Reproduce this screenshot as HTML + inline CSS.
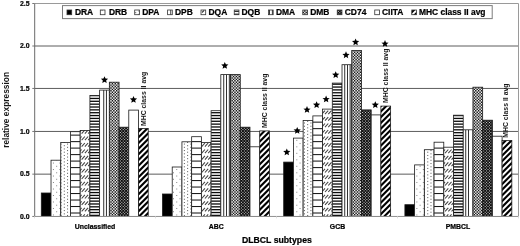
<!DOCTYPE html>
<html><head><meta charset="utf-8"><title>DLBCL subtypes</title>
<style>
html,body{margin:0;padding:0;background:#fff;}
svg{display:block;font-family:"Liberation Sans",Arial,sans-serif;font-weight:bold;fill:#000;}
text{stroke:#000;stroke-width:0.22px;}
text.r{stroke:none;fill:#161616;}
</style></head><body>
<svg width="520" height="246" viewBox="0 0 520 246">
<defs>
<pattern id="p7" patternUnits="userSpaceOnUse" width="2" height="2"><rect width="2" height="2" fill="#b4b4b4"/><rect width="1" height="1" fill="#5c5c5c"/><rect x="1" y="1" width="1" height="1" fill="#5c5c5c"/></pattern>
<pattern id="p8" patternUnits="userSpaceOnUse" width="3" height="3"><rect width="3" height="3" fill="#161616"/><rect x="0" y="0" width="1" height="1" fill="#999"/><rect x="1.5" y="1.5" width="1" height="1" fill="#777"/></pattern>
</defs>
<rect width="520" height="246" fill="#fff"/>

<line x1="34.5" y1="174.15" x2="518.5" y2="174.15" stroke="#4a4a4a" stroke-width="0.9"/>
<line x1="34.5" y1="131.45" x2="518.5" y2="131.45" stroke="#4a4a4a" stroke-width="0.9"/>
<line x1="34.5" y1="88.45" x2="518.5" y2="88.45" stroke="#4a4a4a" stroke-width="0.9"/>
<line x1="34.5" y1="46.00" x2="518.5" y2="46.00" stroke="#4a4a4a" stroke-width="0.9"/>
<path d="M34.5,3.5 H518.5 V216.4" fill="none" stroke="#9a9a9a" stroke-width="1"/>
<rect x="41.30" y="193.00" width="9.72" height="23.45" fill="#000"/>
<rect x="41.30" y="193.00" width="9.72" height="23.45" fill="none" stroke="#1a1a1a" stroke-width="0.8"/>
<rect x="51.02" y="160.20" width="9.72" height="56.25" fill="#fff"/><clipPath id="c1"><rect x="51.02" y="160.20" width="9.72" height="56.25"/></clipPath><g clip-path="url(#c1)"><rect x="56.16" y="159.31" width="1" height="1" fill="#858585"/><rect x="52.92" y="162.55" width="1" height="1" fill="#858585"/><rect x="59.41" y="162.55" width="1" height="1" fill="#858585"/><rect x="56.16" y="165.80" width="1" height="1" fill="#858585"/><rect x="52.92" y="169.04" width="1" height="1" fill="#858585"/><rect x="59.41" y="169.04" width="1" height="1" fill="#858585"/><rect x="56.16" y="172.29" width="1" height="1" fill="#858585"/><rect x="52.92" y="175.53" width="1" height="1" fill="#858585"/><rect x="59.41" y="175.53" width="1" height="1" fill="#858585"/><rect x="56.16" y="178.78" width="1" height="1" fill="#858585"/><rect x="52.92" y="182.02" width="1" height="1" fill="#858585"/><rect x="59.41" y="182.02" width="1" height="1" fill="#858585"/><rect x="56.16" y="185.27" width="1" height="1" fill="#858585"/><rect x="52.92" y="188.51" width="1" height="1" fill="#858585"/><rect x="59.41" y="188.51" width="1" height="1" fill="#858585"/><rect x="56.16" y="191.76" width="1" height="1" fill="#858585"/><rect x="52.92" y="195.00" width="1" height="1" fill="#858585"/><rect x="59.41" y="195.00" width="1" height="1" fill="#858585"/><rect x="56.16" y="198.25" width="1" height="1" fill="#858585"/><rect x="52.92" y="201.49" width="1" height="1" fill="#858585"/><rect x="59.41" y="201.49" width="1" height="1" fill="#858585"/><rect x="56.16" y="204.74" width="1" height="1" fill="#858585"/><rect x="52.92" y="207.98" width="1" height="1" fill="#858585"/><rect x="59.41" y="207.98" width="1" height="1" fill="#858585"/><rect x="56.16" y="211.23" width="1" height="1" fill="#858585"/><rect x="52.92" y="214.47" width="1" height="1" fill="#858585"/><rect x="59.41" y="214.47" width="1" height="1" fill="#858585"/></g>
<rect x="51.02" y="160.20" width="9.72" height="56.25" fill="none" stroke="#1a1a1a" stroke-width="0.8"/>
<rect x="60.74" y="142.50" width="9.72" height="73.95" fill="#fff"/><clipPath id="c2"><rect x="60.74" y="142.50" width="9.72" height="73.95"/></clipPath><g clip-path="url(#c2)"><rect x="63.81" y="141.96" width="1" height="1" fill="#555"/><rect x="70.30" y="141.96" width="1" height="1" fill="#555"/><rect x="60.56" y="143.58" width="1" height="1" fill="#555"/><rect x="67.05" y="143.58" width="1" height="1" fill="#555"/><rect x="63.81" y="145.20" width="1" height="1" fill="#555"/><rect x="70.30" y="145.20" width="1" height="1" fill="#555"/><rect x="60.56" y="146.83" width="1" height="1" fill="#555"/><rect x="67.05" y="146.83" width="1" height="1" fill="#555"/><rect x="63.81" y="148.45" width="1" height="1" fill="#555"/><rect x="70.30" y="148.45" width="1" height="1" fill="#555"/><rect x="60.56" y="150.07" width="1" height="1" fill="#555"/><rect x="67.05" y="150.07" width="1" height="1" fill="#555"/><rect x="63.81" y="151.69" width="1" height="1" fill="#555"/><rect x="70.30" y="151.69" width="1" height="1" fill="#555"/><rect x="60.56" y="153.32" width="1" height="1" fill="#555"/><rect x="67.05" y="153.32" width="1" height="1" fill="#555"/><rect x="63.81" y="154.94" width="1" height="1" fill="#555"/><rect x="70.30" y="154.94" width="1" height="1" fill="#555"/><rect x="60.56" y="156.56" width="1" height="1" fill="#555"/><rect x="67.05" y="156.56" width="1" height="1" fill="#555"/><rect x="63.81" y="158.18" width="1" height="1" fill="#555"/><rect x="70.30" y="158.18" width="1" height="1" fill="#555"/><rect x="60.56" y="159.81" width="1" height="1" fill="#555"/><rect x="67.05" y="159.81" width="1" height="1" fill="#555"/><rect x="63.81" y="161.43" width="1" height="1" fill="#555"/><rect x="70.30" y="161.43" width="1" height="1" fill="#555"/><rect x="60.56" y="163.05" width="1" height="1" fill="#555"/><rect x="67.05" y="163.05" width="1" height="1" fill="#555"/><rect x="63.81" y="164.67" width="1" height="1" fill="#555"/><rect x="70.30" y="164.67" width="1" height="1" fill="#555"/><rect x="60.56" y="166.30" width="1" height="1" fill="#555"/><rect x="67.05" y="166.30" width="1" height="1" fill="#555"/><rect x="63.81" y="167.92" width="1" height="1" fill="#555"/><rect x="70.30" y="167.92" width="1" height="1" fill="#555"/><rect x="60.56" y="169.54" width="1" height="1" fill="#555"/><rect x="67.05" y="169.54" width="1" height="1" fill="#555"/><rect x="63.81" y="171.16" width="1" height="1" fill="#555"/><rect x="70.30" y="171.16" width="1" height="1" fill="#555"/><rect x="60.56" y="172.79" width="1" height="1" fill="#555"/><rect x="67.05" y="172.79" width="1" height="1" fill="#555"/><rect x="63.81" y="174.41" width="1" height="1" fill="#555"/><rect x="70.30" y="174.41" width="1" height="1" fill="#555"/><rect x="60.56" y="176.03" width="1" height="1" fill="#555"/><rect x="67.05" y="176.03" width="1" height="1" fill="#555"/><rect x="63.81" y="177.65" width="1" height="1" fill="#555"/><rect x="70.30" y="177.65" width="1" height="1" fill="#555"/><rect x="60.56" y="179.28" width="1" height="1" fill="#555"/><rect x="67.05" y="179.28" width="1" height="1" fill="#555"/><rect x="63.81" y="180.90" width="1" height="1" fill="#555"/><rect x="70.30" y="180.90" width="1" height="1" fill="#555"/><rect x="60.56" y="182.52" width="1" height="1" fill="#555"/><rect x="67.05" y="182.52" width="1" height="1" fill="#555"/><rect x="63.81" y="184.14" width="1" height="1" fill="#555"/><rect x="70.30" y="184.14" width="1" height="1" fill="#555"/><rect x="60.56" y="185.77" width="1" height="1" fill="#555"/><rect x="67.05" y="185.77" width="1" height="1" fill="#555"/><rect x="63.81" y="187.39" width="1" height="1" fill="#555"/><rect x="70.30" y="187.39" width="1" height="1" fill="#555"/><rect x="60.56" y="189.01" width="1" height="1" fill="#555"/><rect x="67.05" y="189.01" width="1" height="1" fill="#555"/><rect x="63.81" y="190.63" width="1" height="1" fill="#555"/><rect x="70.30" y="190.63" width="1" height="1" fill="#555"/><rect x="60.56" y="192.26" width="1" height="1" fill="#555"/><rect x="67.05" y="192.26" width="1" height="1" fill="#555"/><rect x="63.81" y="193.88" width="1" height="1" fill="#555"/><rect x="70.30" y="193.88" width="1" height="1" fill="#555"/><rect x="60.56" y="195.50" width="1" height="1" fill="#555"/><rect x="67.05" y="195.50" width="1" height="1" fill="#555"/><rect x="63.81" y="197.12" width="1" height="1" fill="#555"/><rect x="70.30" y="197.12" width="1" height="1" fill="#555"/><rect x="60.56" y="198.75" width="1" height="1" fill="#555"/><rect x="67.05" y="198.75" width="1" height="1" fill="#555"/><rect x="63.81" y="200.37" width="1" height="1" fill="#555"/><rect x="70.30" y="200.37" width="1" height="1" fill="#555"/><rect x="60.56" y="201.99" width="1" height="1" fill="#555"/><rect x="67.05" y="201.99" width="1" height="1" fill="#555"/><rect x="63.81" y="203.61" width="1" height="1" fill="#555"/><rect x="70.30" y="203.61" width="1" height="1" fill="#555"/><rect x="60.56" y="205.24" width="1" height="1" fill="#555"/><rect x="67.05" y="205.24" width="1" height="1" fill="#555"/><rect x="63.81" y="206.86" width="1" height="1" fill="#555"/><rect x="70.30" y="206.86" width="1" height="1" fill="#555"/><rect x="60.56" y="208.48" width="1" height="1" fill="#555"/><rect x="67.05" y="208.48" width="1" height="1" fill="#555"/><rect x="63.81" y="210.10" width="1" height="1" fill="#555"/><rect x="70.30" y="210.10" width="1" height="1" fill="#555"/><rect x="60.56" y="211.73" width="1" height="1" fill="#555"/><rect x="67.05" y="211.73" width="1" height="1" fill="#555"/><rect x="63.81" y="213.35" width="1" height="1" fill="#555"/><rect x="70.30" y="213.35" width="1" height="1" fill="#555"/><rect x="60.56" y="214.97" width="1" height="1" fill="#555"/><rect x="67.05" y="214.97" width="1" height="1" fill="#555"/></g>
<rect x="60.74" y="142.50" width="9.72" height="73.95" fill="none" stroke="#1a1a1a" stroke-width="0.8"/>
<rect x="70.46" y="131.70" width="9.72" height="84.75" fill="#fff"/><clipPath id="c3"><rect x="70.46" y="131.70" width="9.72" height="84.75"/></clipPath><g clip-path="url(#c3)"><rect x="70.46" y="134.60" width="9.72" height="1.05" fill="#1a1a1a"/><rect x="70.46" y="141.09" width="9.72" height="1.05" fill="#1a1a1a"/><rect x="70.46" y="147.58" width="9.72" height="1.05" fill="#1a1a1a"/><rect x="70.46" y="154.07" width="9.72" height="1.05" fill="#1a1a1a"/><rect x="70.46" y="160.56" width="9.72" height="1.05" fill="#1a1a1a"/><rect x="70.46" y="167.05" width="9.72" height="1.05" fill="#1a1a1a"/><rect x="70.46" y="173.54" width="9.72" height="1.05" fill="#1a1a1a"/><rect x="70.46" y="180.03" width="9.72" height="1.05" fill="#1a1a1a"/><rect x="70.46" y="186.52" width="9.72" height="1.05" fill="#1a1a1a"/><rect x="70.46" y="193.01" width="9.72" height="1.05" fill="#1a1a1a"/><rect x="70.46" y="199.50" width="9.72" height="1.05" fill="#1a1a1a"/><rect x="70.46" y="205.99" width="9.72" height="1.05" fill="#1a1a1a"/><rect x="70.46" y="212.48" width="9.72" height="1.05" fill="#1a1a1a"/></g>
<rect x="70.46" y="131.70" width="9.72" height="84.75" fill="none" stroke="#1a1a1a" stroke-width="0.8"/>
<rect x="80.18" y="130.40" width="9.72" height="86.05" fill="#fff"/><clipPath id="c4"><rect x="80.18" y="130.40" width="9.72" height="86.05"/></clipPath><g clip-path="url(#c4)"><path d="M78.38,127.09 l3.25,-3.57" stroke="#404040" stroke-width="1.05"/><path d="M81.62,127.09 l3.25,-3.57" stroke="#404040" stroke-width="1.05"/><path d="M84.87,127.09 l3.25,-3.57" stroke="#404040" stroke-width="1.05"/><path d="M88.12,127.09 l3.25,-3.57" stroke="#404040" stroke-width="1.05"/><path d="M91.36,127.09 l3.25,-3.57" stroke="#404040" stroke-width="1.05"/><path d="M78.38,133.58 l3.25,-3.57" stroke="#404040" stroke-width="1.05"/><path d="M81.62,133.58 l3.25,-3.57" stroke="#404040" stroke-width="1.05"/><path d="M84.87,133.58 l3.25,-3.57" stroke="#404040" stroke-width="1.05"/><path d="M88.12,133.58 l3.25,-3.57" stroke="#404040" stroke-width="1.05"/><path d="M91.36,133.58 l3.25,-3.57" stroke="#404040" stroke-width="1.05"/><path d="M78.38,140.07 l3.25,-3.57" stroke="#404040" stroke-width="1.05"/><path d="M81.62,140.07 l3.25,-3.57" stroke="#404040" stroke-width="1.05"/><path d="M84.87,140.07 l3.25,-3.57" stroke="#404040" stroke-width="1.05"/><path d="M88.12,140.07 l3.25,-3.57" stroke="#404040" stroke-width="1.05"/><path d="M91.36,140.07 l3.25,-3.57" stroke="#404040" stroke-width="1.05"/><path d="M78.38,146.56 l3.25,-3.57" stroke="#404040" stroke-width="1.05"/><path d="M81.62,146.56 l3.25,-3.57" stroke="#404040" stroke-width="1.05"/><path d="M84.87,146.56 l3.25,-3.57" stroke="#404040" stroke-width="1.05"/><path d="M88.12,146.56 l3.25,-3.57" stroke="#404040" stroke-width="1.05"/><path d="M91.36,146.56 l3.25,-3.57" stroke="#404040" stroke-width="1.05"/><path d="M78.38,153.05 l3.25,-3.57" stroke="#404040" stroke-width="1.05"/><path d="M81.62,153.05 l3.25,-3.57" stroke="#404040" stroke-width="1.05"/><path d="M84.87,153.05 l3.25,-3.57" stroke="#404040" stroke-width="1.05"/><path d="M88.12,153.05 l3.25,-3.57" stroke="#404040" stroke-width="1.05"/><path d="M91.36,153.05 l3.25,-3.57" stroke="#404040" stroke-width="1.05"/><path d="M78.38,159.54 l3.25,-3.57" stroke="#404040" stroke-width="1.05"/><path d="M81.62,159.54 l3.25,-3.57" stroke="#404040" stroke-width="1.05"/><path d="M84.87,159.54 l3.25,-3.57" stroke="#404040" stroke-width="1.05"/><path d="M88.12,159.54 l3.25,-3.57" stroke="#404040" stroke-width="1.05"/><path d="M91.36,159.54 l3.25,-3.57" stroke="#404040" stroke-width="1.05"/><path d="M78.38,166.03 l3.25,-3.57" stroke="#404040" stroke-width="1.05"/><path d="M81.62,166.03 l3.25,-3.57" stroke="#404040" stroke-width="1.05"/><path d="M84.87,166.03 l3.25,-3.57" stroke="#404040" stroke-width="1.05"/><path d="M88.12,166.03 l3.25,-3.57" stroke="#404040" stroke-width="1.05"/><path d="M91.36,166.03 l3.25,-3.57" stroke="#404040" stroke-width="1.05"/><path d="M78.38,172.52 l3.25,-3.57" stroke="#404040" stroke-width="1.05"/><path d="M81.62,172.52 l3.25,-3.57" stroke="#404040" stroke-width="1.05"/><path d="M84.87,172.52 l3.25,-3.57" stroke="#404040" stroke-width="1.05"/><path d="M88.12,172.52 l3.25,-3.57" stroke="#404040" stroke-width="1.05"/><path d="M91.36,172.52 l3.25,-3.57" stroke="#404040" stroke-width="1.05"/><path d="M78.38,179.01 l3.25,-3.57" stroke="#404040" stroke-width="1.05"/><path d="M81.62,179.01 l3.25,-3.57" stroke="#404040" stroke-width="1.05"/><path d="M84.87,179.01 l3.25,-3.57" stroke="#404040" stroke-width="1.05"/><path d="M88.12,179.01 l3.25,-3.57" stroke="#404040" stroke-width="1.05"/><path d="M91.36,179.01 l3.25,-3.57" stroke="#404040" stroke-width="1.05"/><path d="M78.38,185.50 l3.25,-3.57" stroke="#404040" stroke-width="1.05"/><path d="M81.62,185.50 l3.25,-3.57" stroke="#404040" stroke-width="1.05"/><path d="M84.87,185.50 l3.25,-3.57" stroke="#404040" stroke-width="1.05"/><path d="M88.12,185.50 l3.25,-3.57" stroke="#404040" stroke-width="1.05"/><path d="M91.36,185.50 l3.25,-3.57" stroke="#404040" stroke-width="1.05"/><path d="M78.38,191.99 l3.25,-3.57" stroke="#404040" stroke-width="1.05"/><path d="M81.62,191.99 l3.25,-3.57" stroke="#404040" stroke-width="1.05"/><path d="M84.87,191.99 l3.25,-3.57" stroke="#404040" stroke-width="1.05"/><path d="M88.12,191.99 l3.25,-3.57" stroke="#404040" stroke-width="1.05"/><path d="M91.36,191.99 l3.25,-3.57" stroke="#404040" stroke-width="1.05"/><path d="M78.38,198.48 l3.25,-3.57" stroke="#404040" stroke-width="1.05"/><path d="M81.62,198.48 l3.25,-3.57" stroke="#404040" stroke-width="1.05"/><path d="M84.87,198.48 l3.25,-3.57" stroke="#404040" stroke-width="1.05"/><path d="M88.12,198.48 l3.25,-3.57" stroke="#404040" stroke-width="1.05"/><path d="M91.36,198.48 l3.25,-3.57" stroke="#404040" stroke-width="1.05"/><path d="M78.38,204.97 l3.25,-3.57" stroke="#404040" stroke-width="1.05"/><path d="M81.62,204.97 l3.25,-3.57" stroke="#404040" stroke-width="1.05"/><path d="M84.87,204.97 l3.25,-3.57" stroke="#404040" stroke-width="1.05"/><path d="M88.12,204.97 l3.25,-3.57" stroke="#404040" stroke-width="1.05"/><path d="M91.36,204.97 l3.25,-3.57" stroke="#404040" stroke-width="1.05"/><path d="M78.38,211.46 l3.25,-3.57" stroke="#404040" stroke-width="1.05"/><path d="M81.62,211.46 l3.25,-3.57" stroke="#404040" stroke-width="1.05"/><path d="M84.87,211.46 l3.25,-3.57" stroke="#404040" stroke-width="1.05"/><path d="M88.12,211.46 l3.25,-3.57" stroke="#404040" stroke-width="1.05"/><path d="M91.36,211.46 l3.25,-3.57" stroke="#404040" stroke-width="1.05"/><path d="M78.38,217.95 l3.25,-3.57" stroke="#404040" stroke-width="1.05"/><path d="M81.62,217.95 l3.25,-3.57" stroke="#404040" stroke-width="1.05"/><path d="M84.87,217.95 l3.25,-3.57" stroke="#404040" stroke-width="1.05"/><path d="M88.12,217.95 l3.25,-3.57" stroke="#404040" stroke-width="1.05"/><path d="M91.36,217.95 l3.25,-3.57" stroke="#404040" stroke-width="1.05"/><path d="M78.38,224.44 l3.25,-3.57" stroke="#404040" stroke-width="1.05"/><path d="M81.62,224.44 l3.25,-3.57" stroke="#404040" stroke-width="1.05"/><path d="M84.87,224.44 l3.25,-3.57" stroke="#404040" stroke-width="1.05"/><path d="M88.12,224.44 l3.25,-3.57" stroke="#404040" stroke-width="1.05"/><path d="M91.36,224.44 l3.25,-3.57" stroke="#404040" stroke-width="1.05"/></g>
<rect x="80.18" y="130.40" width="9.72" height="86.05" fill="none" stroke="#1a1a1a" stroke-width="0.8"/>
<rect x="89.90" y="95.40" width="9.72" height="121.05" fill="#fff"/><clipPath id="c5"><rect x="89.90" y="95.40" width="9.72" height="121.05"/></clipPath><g clip-path="url(#c5)"><rect x="89.90" y="94.95" width="9.72" height="1.3" fill="#0a0a0a"/><rect x="89.90" y="97.80" width="9.72" height="1.3" fill="#0a0a0a"/><rect x="89.90" y="100.65" width="9.72" height="1.3" fill="#0a0a0a"/><rect x="89.90" y="103.51" width="9.72" height="1.3" fill="#0a0a0a"/><rect x="89.90" y="106.36" width="9.72" height="1.3" fill="#0a0a0a"/><rect x="89.90" y="109.21" width="9.72" height="1.3" fill="#0a0a0a"/><rect x="89.90" y="112.06" width="9.72" height="1.3" fill="#0a0a0a"/><rect x="89.90" y="114.91" width="9.72" height="1.3" fill="#0a0a0a"/><rect x="89.90" y="117.77" width="9.72" height="1.3" fill="#0a0a0a"/><rect x="89.90" y="120.62" width="9.72" height="1.3" fill="#0a0a0a"/><rect x="89.90" y="123.47" width="9.72" height="1.3" fill="#0a0a0a"/><rect x="89.90" y="126.32" width="9.72" height="1.3" fill="#0a0a0a"/><rect x="89.90" y="129.17" width="9.72" height="1.3" fill="#0a0a0a"/><rect x="89.90" y="132.03" width="9.72" height="1.3" fill="#0a0a0a"/><rect x="89.90" y="134.88" width="9.72" height="1.3" fill="#0a0a0a"/><rect x="89.90" y="137.73" width="9.72" height="1.3" fill="#0a0a0a"/><rect x="89.90" y="140.58" width="9.72" height="1.3" fill="#0a0a0a"/><rect x="89.90" y="143.43" width="9.72" height="1.3" fill="#0a0a0a"/><rect x="89.90" y="146.29" width="9.72" height="1.3" fill="#0a0a0a"/><rect x="89.90" y="149.14" width="9.72" height="1.3" fill="#0a0a0a"/><rect x="89.90" y="151.99" width="9.72" height="1.3" fill="#0a0a0a"/><rect x="89.90" y="154.84" width="9.72" height="1.3" fill="#0a0a0a"/><rect x="89.90" y="157.69" width="9.72" height="1.3" fill="#0a0a0a"/><rect x="89.90" y="160.55" width="9.72" height="1.3" fill="#0a0a0a"/><rect x="89.90" y="163.40" width="9.72" height="1.3" fill="#0a0a0a"/><rect x="89.90" y="166.25" width="9.72" height="1.3" fill="#0a0a0a"/><rect x="89.90" y="169.10" width="9.72" height="1.3" fill="#0a0a0a"/><rect x="89.90" y="171.95" width="9.72" height="1.3" fill="#0a0a0a"/><rect x="89.90" y="174.81" width="9.72" height="1.3" fill="#0a0a0a"/><rect x="89.90" y="177.66" width="9.72" height="1.3" fill="#0a0a0a"/><rect x="89.90" y="180.51" width="9.72" height="1.3" fill="#0a0a0a"/><rect x="89.90" y="183.36" width="9.72" height="1.3" fill="#0a0a0a"/><rect x="89.90" y="186.21" width="9.72" height="1.3" fill="#0a0a0a"/><rect x="89.90" y="189.07" width="9.72" height="1.3" fill="#0a0a0a"/><rect x="89.90" y="191.92" width="9.72" height="1.3" fill="#0a0a0a"/><rect x="89.90" y="194.77" width="9.72" height="1.3" fill="#0a0a0a"/><rect x="89.90" y="197.62" width="9.72" height="1.3" fill="#0a0a0a"/><rect x="89.90" y="200.47" width="9.72" height="1.3" fill="#0a0a0a"/><rect x="89.90" y="203.33" width="9.72" height="1.3" fill="#0a0a0a"/><rect x="89.90" y="206.18" width="9.72" height="1.3" fill="#0a0a0a"/><rect x="89.90" y="209.03" width="9.72" height="1.3" fill="#0a0a0a"/><rect x="89.90" y="211.88" width="9.72" height="1.3" fill="#0a0a0a"/><rect x="89.90" y="214.73" width="9.72" height="1.3" fill="#0a0a0a"/></g>
<rect x="89.90" y="95.40" width="9.72" height="121.05" fill="none" stroke="#1a1a1a" stroke-width="0.8"/>
<rect x="99.62" y="90.10" width="9.72" height="126.35" fill="#fff"/><clipPath id="c6"><rect x="99.62" y="90.10" width="9.72" height="126.35"/></clipPath><g clip-path="url(#c6)"><rect x="103.30" y="90.10" width="0.9" height="126.35" fill="#1a1a1a"/><rect x="105.95" y="90.10" width="0.9" height="126.35" fill="#1a1a1a"/></g>
<rect x="99.62" y="90.10" width="9.72" height="126.35" fill="none" stroke="#1a1a1a" stroke-width="0.8"/>
<rect x="109.34" y="82.20" width="9.72" height="134.25" fill="#f4f4f4"/><clipPath id="c7"><rect x="109.34" y="82.20" width="9.72" height="134.25"/></clipPath><g clip-path="url(#c7)"><path d="M109.56,77.25 V216.45" stroke="#141414" stroke-width="1.425" stroke-dasharray="1.425 1.425" stroke-dashoffset="0.000"/><path d="M110.99,77.25 V216.45" stroke="#141414" stroke-width="1.425" stroke-dasharray="1.425 1.425" stroke-dashoffset="1.425"/><path d="M112.41,77.25 V216.45" stroke="#141414" stroke-width="1.425" stroke-dasharray="1.425 1.425" stroke-dashoffset="0.000"/><path d="M113.84,77.25 V216.45" stroke="#141414" stroke-width="1.425" stroke-dasharray="1.425 1.425" stroke-dashoffset="1.425"/><path d="M115.26,77.25 V216.45" stroke="#141414" stroke-width="1.425" stroke-dasharray="1.425 1.425" stroke-dashoffset="0.000"/><path d="M116.69,77.25 V216.45" stroke="#141414" stroke-width="1.425" stroke-dasharray="1.425 1.425" stroke-dashoffset="1.425"/><path d="M118.11,77.25 V216.45" stroke="#141414" stroke-width="1.425" stroke-dasharray="1.425 1.425" stroke-dashoffset="0.000"/><path d="M119.54,77.25 V216.45" stroke="#141414" stroke-width="1.425" stroke-dasharray="1.425 1.425" stroke-dashoffset="1.425"/></g>
<rect x="109.34" y="82.20" width="9.72" height="134.25" fill="none" stroke="#1a1a1a" stroke-width="0.8"/>
<rect x="119.06" y="127.20" width="9.72" height="89.25" fill="#0c0c0c"/><clipPath id="c8"><rect x="119.06" y="127.20" width="9.72" height="89.25"/></clipPath><g clip-path="url(#c8)"><path d="M118.95,123.45 V216.45" stroke="#eee" stroke-width="0.950" stroke-dasharray="0.950 1.900" stroke-dashoffset="1.425"/><path d="M120.38,123.45 V216.45" stroke="#eee" stroke-width="0.950" stroke-dasharray="0.950 1.900" stroke-dashoffset="0.000"/><path d="M121.80,123.45 V216.45" stroke="#eee" stroke-width="0.950" stroke-dasharray="0.950 1.900" stroke-dashoffset="1.425"/><path d="M123.22,123.45 V216.45" stroke="#eee" stroke-width="0.950" stroke-dasharray="0.950 1.900" stroke-dashoffset="0.000"/><path d="M124.65,123.45 V216.45" stroke="#eee" stroke-width="0.950" stroke-dasharray="0.950 1.900" stroke-dashoffset="1.425"/><path d="M126.07,123.45 V216.45" stroke="#eee" stroke-width="0.950" stroke-dasharray="0.950 1.900" stroke-dashoffset="0.000"/><path d="M127.50,123.45 V216.45" stroke="#eee" stroke-width="0.950" stroke-dasharray="0.950 1.900" stroke-dashoffset="1.425"/><path d="M128.92,123.45 V216.45" stroke="#eee" stroke-width="0.950" stroke-dasharray="0.950 1.900" stroke-dashoffset="0.000"/></g>
<rect x="119.06" y="127.20" width="9.72" height="89.25" fill="none" stroke="#1a1a1a" stroke-width="0.8"/>
<rect x="128.78" y="110.10" width="9.72" height="106.35" fill="#fff"/>
<rect x="128.78" y="110.10" width="9.72" height="106.35" fill="none" stroke="#1a1a1a" stroke-width="0.8"/>
<rect x="138.50" y="128.50" width="9.72" height="87.95" fill="#fff"/><clipPath id="c10"><rect x="138.50" y="128.50" width="9.72" height="87.95"/></clipPath><g clip-path="url(#c10)"><path d="M136.50,122.15 L150.22,108.43" stroke="#000" stroke-width="2.1"/><path d="M136.50,127.85 L150.22,114.13" stroke="#000" stroke-width="2.1"/><path d="M136.50,133.55 L150.22,119.83" stroke="#000" stroke-width="2.1"/><path d="M136.50,139.25 L150.22,125.53" stroke="#000" stroke-width="2.1"/><path d="M136.50,144.95 L150.22,131.23" stroke="#000" stroke-width="2.1"/><path d="M136.50,150.65 L150.22,136.93" stroke="#000" stroke-width="2.1"/><path d="M136.50,156.35 L150.22,142.63" stroke="#000" stroke-width="2.1"/><path d="M136.50,162.05 L150.22,148.33" stroke="#000" stroke-width="2.1"/><path d="M136.50,167.75 L150.22,154.03" stroke="#000" stroke-width="2.1"/><path d="M136.50,173.45 L150.22,159.73" stroke="#000" stroke-width="2.1"/><path d="M136.50,179.15 L150.22,165.43" stroke="#000" stroke-width="2.1"/><path d="M136.50,184.85 L150.22,171.13" stroke="#000" stroke-width="2.1"/><path d="M136.50,190.55 L150.22,176.83" stroke="#000" stroke-width="2.1"/><path d="M136.50,196.25 L150.22,182.53" stroke="#000" stroke-width="2.1"/><path d="M136.50,201.95 L150.22,188.23" stroke="#000" stroke-width="2.1"/><path d="M136.50,207.65 L150.22,193.93" stroke="#000" stroke-width="2.1"/><path d="M136.50,213.35 L150.22,199.63" stroke="#000" stroke-width="2.1"/><path d="M136.50,219.05 L150.22,205.33" stroke="#000" stroke-width="2.1"/><path d="M136.50,224.75 L150.22,211.03" stroke="#000" stroke-width="2.1"/><path d="M136.50,230.45 L150.22,216.73" stroke="#000" stroke-width="2.1"/><path d="M136.50,236.15 L150.22,222.43" stroke="#000" stroke-width="2.1"/></g>
<rect x="138.50" y="128.50" width="9.72" height="87.95" fill="none" stroke="#1a1a1a" stroke-width="0.8"/>
<rect x="162.50" y="194.00" width="9.72" height="22.45" fill="#000"/>
<rect x="162.50" y="194.00" width="9.72" height="22.45" fill="none" stroke="#1a1a1a" stroke-width="0.8"/>
<rect x="172.22" y="167.00" width="9.72" height="49.45" fill="#fff"/><clipPath id="c11"><rect x="172.22" y="167.00" width="9.72" height="49.45"/></clipPath><g clip-path="url(#c11)"><rect x="176.23" y="169.04" width="1" height="1" fill="#858585"/><rect x="172.99" y="172.29" width="1" height="1" fill="#858585"/><rect x="179.48" y="172.29" width="1" height="1" fill="#858585"/><rect x="176.23" y="175.53" width="1" height="1" fill="#858585"/><rect x="172.99" y="178.78" width="1" height="1" fill="#858585"/><rect x="179.48" y="178.78" width="1" height="1" fill="#858585"/><rect x="176.23" y="182.02" width="1" height="1" fill="#858585"/><rect x="172.99" y="185.27" width="1" height="1" fill="#858585"/><rect x="179.48" y="185.27" width="1" height="1" fill="#858585"/><rect x="176.23" y="188.51" width="1" height="1" fill="#858585"/><rect x="172.99" y="191.76" width="1" height="1" fill="#858585"/><rect x="179.48" y="191.76" width="1" height="1" fill="#858585"/><rect x="176.23" y="195.00" width="1" height="1" fill="#858585"/><rect x="172.99" y="198.25" width="1" height="1" fill="#858585"/><rect x="179.48" y="198.25" width="1" height="1" fill="#858585"/><rect x="176.23" y="201.49" width="1" height="1" fill="#858585"/><rect x="172.99" y="204.74" width="1" height="1" fill="#858585"/><rect x="179.48" y="204.74" width="1" height="1" fill="#858585"/><rect x="176.23" y="207.98" width="1" height="1" fill="#858585"/><rect x="172.99" y="211.23" width="1" height="1" fill="#858585"/><rect x="179.48" y="211.23" width="1" height="1" fill="#858585"/><rect x="176.23" y="214.47" width="1" height="1" fill="#858585"/></g>
<rect x="172.22" y="167.00" width="9.72" height="49.45" fill="none" stroke="#1a1a1a" stroke-width="0.8"/>
<rect x="181.94" y="141.80" width="9.72" height="74.65" fill="#fff"/><clipPath id="c12"><rect x="181.94" y="141.80" width="9.72" height="74.65"/></clipPath><g clip-path="url(#c12)"><rect x="187.12" y="141.96" width="1" height="1" fill="#555"/><rect x="183.87" y="143.58" width="1" height="1" fill="#555"/><rect x="190.36" y="143.58" width="1" height="1" fill="#555"/><rect x="187.12" y="145.20" width="1" height="1" fill="#555"/><rect x="183.87" y="146.83" width="1" height="1" fill="#555"/><rect x="190.36" y="146.83" width="1" height="1" fill="#555"/><rect x="187.12" y="148.45" width="1" height="1" fill="#555"/><rect x="183.87" y="150.07" width="1" height="1" fill="#555"/><rect x="190.36" y="150.07" width="1" height="1" fill="#555"/><rect x="187.12" y="151.69" width="1" height="1" fill="#555"/><rect x="183.87" y="153.32" width="1" height="1" fill="#555"/><rect x="190.36" y="153.32" width="1" height="1" fill="#555"/><rect x="187.12" y="154.94" width="1" height="1" fill="#555"/><rect x="183.87" y="156.56" width="1" height="1" fill="#555"/><rect x="190.36" y="156.56" width="1" height="1" fill="#555"/><rect x="187.12" y="158.18" width="1" height="1" fill="#555"/><rect x="183.87" y="159.81" width="1" height="1" fill="#555"/><rect x="190.36" y="159.81" width="1" height="1" fill="#555"/><rect x="187.12" y="161.43" width="1" height="1" fill="#555"/><rect x="183.87" y="163.05" width="1" height="1" fill="#555"/><rect x="190.36" y="163.05" width="1" height="1" fill="#555"/><rect x="187.12" y="164.67" width="1" height="1" fill="#555"/><rect x="183.87" y="166.30" width="1" height="1" fill="#555"/><rect x="190.36" y="166.30" width="1" height="1" fill="#555"/><rect x="187.12" y="167.92" width="1" height="1" fill="#555"/><rect x="183.87" y="169.54" width="1" height="1" fill="#555"/><rect x="190.36" y="169.54" width="1" height="1" fill="#555"/><rect x="187.12" y="171.16" width="1" height="1" fill="#555"/><rect x="183.87" y="172.79" width="1" height="1" fill="#555"/><rect x="190.36" y="172.79" width="1" height="1" fill="#555"/><rect x="187.12" y="174.41" width="1" height="1" fill="#555"/><rect x="183.87" y="176.03" width="1" height="1" fill="#555"/><rect x="190.36" y="176.03" width="1" height="1" fill="#555"/><rect x="187.12" y="177.65" width="1" height="1" fill="#555"/><rect x="183.87" y="179.28" width="1" height="1" fill="#555"/><rect x="190.36" y="179.28" width="1" height="1" fill="#555"/><rect x="187.12" y="180.90" width="1" height="1" fill="#555"/><rect x="183.87" y="182.52" width="1" height="1" fill="#555"/><rect x="190.36" y="182.52" width="1" height="1" fill="#555"/><rect x="187.12" y="184.14" width="1" height="1" fill="#555"/><rect x="183.87" y="185.77" width="1" height="1" fill="#555"/><rect x="190.36" y="185.77" width="1" height="1" fill="#555"/><rect x="187.12" y="187.39" width="1" height="1" fill="#555"/><rect x="183.87" y="189.01" width="1" height="1" fill="#555"/><rect x="190.36" y="189.01" width="1" height="1" fill="#555"/><rect x="187.12" y="190.63" width="1" height="1" fill="#555"/><rect x="183.87" y="192.26" width="1" height="1" fill="#555"/><rect x="190.36" y="192.26" width="1" height="1" fill="#555"/><rect x="187.12" y="193.88" width="1" height="1" fill="#555"/><rect x="183.87" y="195.50" width="1" height="1" fill="#555"/><rect x="190.36" y="195.50" width="1" height="1" fill="#555"/><rect x="187.12" y="197.12" width="1" height="1" fill="#555"/><rect x="183.87" y="198.75" width="1" height="1" fill="#555"/><rect x="190.36" y="198.75" width="1" height="1" fill="#555"/><rect x="187.12" y="200.37" width="1" height="1" fill="#555"/><rect x="183.87" y="201.99" width="1" height="1" fill="#555"/><rect x="190.36" y="201.99" width="1" height="1" fill="#555"/><rect x="187.12" y="203.61" width="1" height="1" fill="#555"/><rect x="183.87" y="205.24" width="1" height="1" fill="#555"/><rect x="190.36" y="205.24" width="1" height="1" fill="#555"/><rect x="187.12" y="206.86" width="1" height="1" fill="#555"/><rect x="183.87" y="208.48" width="1" height="1" fill="#555"/><rect x="190.36" y="208.48" width="1" height="1" fill="#555"/><rect x="187.12" y="210.10" width="1" height="1" fill="#555"/><rect x="183.87" y="211.73" width="1" height="1" fill="#555"/><rect x="190.36" y="211.73" width="1" height="1" fill="#555"/><rect x="187.12" y="213.35" width="1" height="1" fill="#555"/><rect x="183.87" y="214.97" width="1" height="1" fill="#555"/><rect x="190.36" y="214.97" width="1" height="1" fill="#555"/></g>
<rect x="181.94" y="141.80" width="9.72" height="74.65" fill="none" stroke="#1a1a1a" stroke-width="0.8"/>
<rect x="191.66" y="136.70" width="9.72" height="79.75" fill="#fff"/><clipPath id="c13"><rect x="191.66" y="136.70" width="9.72" height="79.75"/></clipPath><g clip-path="url(#c13)"><rect x="191.66" y="141.09" width="9.72" height="1.05" fill="#1a1a1a"/><rect x="191.66" y="147.58" width="9.72" height="1.05" fill="#1a1a1a"/><rect x="191.66" y="154.07" width="9.72" height="1.05" fill="#1a1a1a"/><rect x="191.66" y="160.56" width="9.72" height="1.05" fill="#1a1a1a"/><rect x="191.66" y="167.05" width="9.72" height="1.05" fill="#1a1a1a"/><rect x="191.66" y="173.54" width="9.72" height="1.05" fill="#1a1a1a"/><rect x="191.66" y="180.03" width="9.72" height="1.05" fill="#1a1a1a"/><rect x="191.66" y="186.52" width="9.72" height="1.05" fill="#1a1a1a"/><rect x="191.66" y="193.01" width="9.72" height="1.05" fill="#1a1a1a"/><rect x="191.66" y="199.50" width="9.72" height="1.05" fill="#1a1a1a"/><rect x="191.66" y="205.99" width="9.72" height="1.05" fill="#1a1a1a"/><rect x="191.66" y="212.48" width="9.72" height="1.05" fill="#1a1a1a"/></g>
<rect x="191.66" y="136.70" width="9.72" height="79.75" fill="none" stroke="#1a1a1a" stroke-width="0.8"/>
<rect x="201.38" y="142.50" width="9.72" height="73.95" fill="#fff"/><clipPath id="c14"><rect x="201.38" y="142.50" width="9.72" height="73.95"/></clipPath><g clip-path="url(#c14)"><path d="M198.44,140.07 l3.25,-3.57" stroke="#404040" stroke-width="1.05"/><path d="M201.69,140.07 l3.25,-3.57" stroke="#404040" stroke-width="1.05"/><path d="M204.94,140.07 l3.25,-3.57" stroke="#404040" stroke-width="1.05"/><path d="M208.18,140.07 l3.25,-3.57" stroke="#404040" stroke-width="1.05"/><path d="M211.43,140.07 l3.25,-3.57" stroke="#404040" stroke-width="1.05"/><path d="M198.44,146.56 l3.25,-3.57" stroke="#404040" stroke-width="1.05"/><path d="M201.69,146.56 l3.25,-3.57" stroke="#404040" stroke-width="1.05"/><path d="M204.94,146.56 l3.25,-3.57" stroke="#404040" stroke-width="1.05"/><path d="M208.18,146.56 l3.25,-3.57" stroke="#404040" stroke-width="1.05"/><path d="M211.43,146.56 l3.25,-3.57" stroke="#404040" stroke-width="1.05"/><path d="M198.44,153.05 l3.25,-3.57" stroke="#404040" stroke-width="1.05"/><path d="M201.69,153.05 l3.25,-3.57" stroke="#404040" stroke-width="1.05"/><path d="M204.94,153.05 l3.25,-3.57" stroke="#404040" stroke-width="1.05"/><path d="M208.18,153.05 l3.25,-3.57" stroke="#404040" stroke-width="1.05"/><path d="M211.43,153.05 l3.25,-3.57" stroke="#404040" stroke-width="1.05"/><path d="M198.44,159.54 l3.25,-3.57" stroke="#404040" stroke-width="1.05"/><path d="M201.69,159.54 l3.25,-3.57" stroke="#404040" stroke-width="1.05"/><path d="M204.94,159.54 l3.25,-3.57" stroke="#404040" stroke-width="1.05"/><path d="M208.18,159.54 l3.25,-3.57" stroke="#404040" stroke-width="1.05"/><path d="M211.43,159.54 l3.25,-3.57" stroke="#404040" stroke-width="1.05"/><path d="M198.44,166.03 l3.25,-3.57" stroke="#404040" stroke-width="1.05"/><path d="M201.69,166.03 l3.25,-3.57" stroke="#404040" stroke-width="1.05"/><path d="M204.94,166.03 l3.25,-3.57" stroke="#404040" stroke-width="1.05"/><path d="M208.18,166.03 l3.25,-3.57" stroke="#404040" stroke-width="1.05"/><path d="M211.43,166.03 l3.25,-3.57" stroke="#404040" stroke-width="1.05"/><path d="M198.44,172.52 l3.25,-3.57" stroke="#404040" stroke-width="1.05"/><path d="M201.69,172.52 l3.25,-3.57" stroke="#404040" stroke-width="1.05"/><path d="M204.94,172.52 l3.25,-3.57" stroke="#404040" stroke-width="1.05"/><path d="M208.18,172.52 l3.25,-3.57" stroke="#404040" stroke-width="1.05"/><path d="M211.43,172.52 l3.25,-3.57" stroke="#404040" stroke-width="1.05"/><path d="M198.44,179.01 l3.25,-3.57" stroke="#404040" stroke-width="1.05"/><path d="M201.69,179.01 l3.25,-3.57" stroke="#404040" stroke-width="1.05"/><path d="M204.94,179.01 l3.25,-3.57" stroke="#404040" stroke-width="1.05"/><path d="M208.18,179.01 l3.25,-3.57" stroke="#404040" stroke-width="1.05"/><path d="M211.43,179.01 l3.25,-3.57" stroke="#404040" stroke-width="1.05"/><path d="M198.44,185.50 l3.25,-3.57" stroke="#404040" stroke-width="1.05"/><path d="M201.69,185.50 l3.25,-3.57" stroke="#404040" stroke-width="1.05"/><path d="M204.94,185.50 l3.25,-3.57" stroke="#404040" stroke-width="1.05"/><path d="M208.18,185.50 l3.25,-3.57" stroke="#404040" stroke-width="1.05"/><path d="M211.43,185.50 l3.25,-3.57" stroke="#404040" stroke-width="1.05"/><path d="M198.44,191.99 l3.25,-3.57" stroke="#404040" stroke-width="1.05"/><path d="M201.69,191.99 l3.25,-3.57" stroke="#404040" stroke-width="1.05"/><path d="M204.94,191.99 l3.25,-3.57" stroke="#404040" stroke-width="1.05"/><path d="M208.18,191.99 l3.25,-3.57" stroke="#404040" stroke-width="1.05"/><path d="M211.43,191.99 l3.25,-3.57" stroke="#404040" stroke-width="1.05"/><path d="M198.44,198.48 l3.25,-3.57" stroke="#404040" stroke-width="1.05"/><path d="M201.69,198.48 l3.25,-3.57" stroke="#404040" stroke-width="1.05"/><path d="M204.94,198.48 l3.25,-3.57" stroke="#404040" stroke-width="1.05"/><path d="M208.18,198.48 l3.25,-3.57" stroke="#404040" stroke-width="1.05"/><path d="M211.43,198.48 l3.25,-3.57" stroke="#404040" stroke-width="1.05"/><path d="M198.44,204.97 l3.25,-3.57" stroke="#404040" stroke-width="1.05"/><path d="M201.69,204.97 l3.25,-3.57" stroke="#404040" stroke-width="1.05"/><path d="M204.94,204.97 l3.25,-3.57" stroke="#404040" stroke-width="1.05"/><path d="M208.18,204.97 l3.25,-3.57" stroke="#404040" stroke-width="1.05"/><path d="M211.43,204.97 l3.25,-3.57" stroke="#404040" stroke-width="1.05"/><path d="M198.44,211.46 l3.25,-3.57" stroke="#404040" stroke-width="1.05"/><path d="M201.69,211.46 l3.25,-3.57" stroke="#404040" stroke-width="1.05"/><path d="M204.94,211.46 l3.25,-3.57" stroke="#404040" stroke-width="1.05"/><path d="M208.18,211.46 l3.25,-3.57" stroke="#404040" stroke-width="1.05"/><path d="M211.43,211.46 l3.25,-3.57" stroke="#404040" stroke-width="1.05"/><path d="M198.44,217.95 l3.25,-3.57" stroke="#404040" stroke-width="1.05"/><path d="M201.69,217.95 l3.25,-3.57" stroke="#404040" stroke-width="1.05"/><path d="M204.94,217.95 l3.25,-3.57" stroke="#404040" stroke-width="1.05"/><path d="M208.18,217.95 l3.25,-3.57" stroke="#404040" stroke-width="1.05"/><path d="M211.43,217.95 l3.25,-3.57" stroke="#404040" stroke-width="1.05"/><path d="M198.44,224.44 l3.25,-3.57" stroke="#404040" stroke-width="1.05"/><path d="M201.69,224.44 l3.25,-3.57" stroke="#404040" stroke-width="1.05"/><path d="M204.94,224.44 l3.25,-3.57" stroke="#404040" stroke-width="1.05"/><path d="M208.18,224.44 l3.25,-3.57" stroke="#404040" stroke-width="1.05"/><path d="M211.43,224.44 l3.25,-3.57" stroke="#404040" stroke-width="1.05"/></g>
<rect x="201.38" y="142.50" width="9.72" height="73.95" fill="none" stroke="#1a1a1a" stroke-width="0.8"/>
<rect x="211.10" y="110.70" width="9.72" height="105.75" fill="#fff"/><clipPath id="c15"><rect x="211.10" y="110.70" width="9.72" height="105.75"/></clipPath><g clip-path="url(#c15)"><rect x="211.10" y="112.06" width="9.72" height="1.3" fill="#0a0a0a"/><rect x="211.10" y="114.91" width="9.72" height="1.3" fill="#0a0a0a"/><rect x="211.10" y="117.77" width="9.72" height="1.3" fill="#0a0a0a"/><rect x="211.10" y="120.62" width="9.72" height="1.3" fill="#0a0a0a"/><rect x="211.10" y="123.47" width="9.72" height="1.3" fill="#0a0a0a"/><rect x="211.10" y="126.32" width="9.72" height="1.3" fill="#0a0a0a"/><rect x="211.10" y="129.17" width="9.72" height="1.3" fill="#0a0a0a"/><rect x="211.10" y="132.03" width="9.72" height="1.3" fill="#0a0a0a"/><rect x="211.10" y="134.88" width="9.72" height="1.3" fill="#0a0a0a"/><rect x="211.10" y="137.73" width="9.72" height="1.3" fill="#0a0a0a"/><rect x="211.10" y="140.58" width="9.72" height="1.3" fill="#0a0a0a"/><rect x="211.10" y="143.43" width="9.72" height="1.3" fill="#0a0a0a"/><rect x="211.10" y="146.29" width="9.72" height="1.3" fill="#0a0a0a"/><rect x="211.10" y="149.14" width="9.72" height="1.3" fill="#0a0a0a"/><rect x="211.10" y="151.99" width="9.72" height="1.3" fill="#0a0a0a"/><rect x="211.10" y="154.84" width="9.72" height="1.3" fill="#0a0a0a"/><rect x="211.10" y="157.69" width="9.72" height="1.3" fill="#0a0a0a"/><rect x="211.10" y="160.55" width="9.72" height="1.3" fill="#0a0a0a"/><rect x="211.10" y="163.40" width="9.72" height="1.3" fill="#0a0a0a"/><rect x="211.10" y="166.25" width="9.72" height="1.3" fill="#0a0a0a"/><rect x="211.10" y="169.10" width="9.72" height="1.3" fill="#0a0a0a"/><rect x="211.10" y="171.95" width="9.72" height="1.3" fill="#0a0a0a"/><rect x="211.10" y="174.81" width="9.72" height="1.3" fill="#0a0a0a"/><rect x="211.10" y="177.66" width="9.72" height="1.3" fill="#0a0a0a"/><rect x="211.10" y="180.51" width="9.72" height="1.3" fill="#0a0a0a"/><rect x="211.10" y="183.36" width="9.72" height="1.3" fill="#0a0a0a"/><rect x="211.10" y="186.21" width="9.72" height="1.3" fill="#0a0a0a"/><rect x="211.10" y="189.07" width="9.72" height="1.3" fill="#0a0a0a"/><rect x="211.10" y="191.92" width="9.72" height="1.3" fill="#0a0a0a"/><rect x="211.10" y="194.77" width="9.72" height="1.3" fill="#0a0a0a"/><rect x="211.10" y="197.62" width="9.72" height="1.3" fill="#0a0a0a"/><rect x="211.10" y="200.47" width="9.72" height="1.3" fill="#0a0a0a"/><rect x="211.10" y="203.33" width="9.72" height="1.3" fill="#0a0a0a"/><rect x="211.10" y="206.18" width="9.72" height="1.3" fill="#0a0a0a"/><rect x="211.10" y="209.03" width="9.72" height="1.3" fill="#0a0a0a"/><rect x="211.10" y="211.88" width="9.72" height="1.3" fill="#0a0a0a"/><rect x="211.10" y="214.73" width="9.72" height="1.3" fill="#0a0a0a"/></g>
<rect x="211.10" y="110.70" width="9.72" height="105.75" fill="none" stroke="#1a1a1a" stroke-width="0.8"/>
<rect x="220.82" y="74.60" width="9.72" height="141.85" fill="#fff"/><clipPath id="c16"><rect x="220.82" y="74.60" width="9.72" height="141.85"/></clipPath><g clip-path="url(#c16)"><rect x="223.30" y="74.60" width="0.9" height="141.85" fill="#1a1a1a"/><rect x="226.05" y="74.60" width="0.9" height="141.85" fill="#1a1a1a"/><rect x="228.85" y="74.60" width="0.9" height="141.85" fill="#1a1a1a"/></g>
<rect x="220.82" y="74.60" width="9.72" height="141.85" fill="none" stroke="#1a1a1a" stroke-width="0.8"/>
<rect x="230.54" y="74.60" width="9.72" height="141.85" fill="#f4f4f4"/><clipPath id="c17"><rect x="230.54" y="74.60" width="9.72" height="141.85"/></clipPath><g clip-path="url(#c17)"><path d="M230.69,71.55 V216.45" stroke="#141414" stroke-width="1.425" stroke-dasharray="1.425 1.425" stroke-dashoffset="1.425"/><path d="M232.11,71.55 V216.45" stroke="#141414" stroke-width="1.425" stroke-dasharray="1.425 1.425" stroke-dashoffset="0.000"/><path d="M233.54,71.55 V216.45" stroke="#141414" stroke-width="1.425" stroke-dasharray="1.425 1.425" stroke-dashoffset="1.425"/><path d="M234.96,71.55 V216.45" stroke="#141414" stroke-width="1.425" stroke-dasharray="1.425 1.425" stroke-dashoffset="0.000"/><path d="M236.39,71.55 V216.45" stroke="#141414" stroke-width="1.425" stroke-dasharray="1.425 1.425" stroke-dashoffset="1.425"/><path d="M237.81,71.55 V216.45" stroke="#141414" stroke-width="1.425" stroke-dasharray="1.425 1.425" stroke-dashoffset="0.000"/><path d="M239.24,71.55 V216.45" stroke="#141414" stroke-width="1.425" stroke-dasharray="1.425 1.425" stroke-dashoffset="1.425"/><path d="M240.66,71.55 V216.45" stroke="#141414" stroke-width="1.425" stroke-dasharray="1.425 1.425" stroke-dashoffset="0.000"/></g>
<rect x="230.54" y="74.60" width="9.72" height="141.85" fill="none" stroke="#1a1a1a" stroke-width="0.8"/>
<rect x="240.26" y="127.20" width="9.72" height="89.25" fill="#0c0c0c"/><clipPath id="c18"><rect x="240.26" y="127.20" width="9.72" height="89.25"/></clipPath><g clip-path="url(#c18)"><path d="M240.07,123.45 V216.45" stroke="#eee" stroke-width="0.950" stroke-dasharray="0.950 1.900" stroke-dashoffset="0.000"/><path d="M241.50,123.45 V216.45" stroke="#eee" stroke-width="0.950" stroke-dasharray="0.950 1.900" stroke-dashoffset="1.425"/><path d="M242.93,123.45 V216.45" stroke="#eee" stroke-width="0.950" stroke-dasharray="0.950 1.900" stroke-dashoffset="0.000"/><path d="M244.35,123.45 V216.45" stroke="#eee" stroke-width="0.950" stroke-dasharray="0.950 1.900" stroke-dashoffset="1.425"/><path d="M245.78,123.45 V216.45" stroke="#eee" stroke-width="0.950" stroke-dasharray="0.950 1.900" stroke-dashoffset="0.000"/><path d="M247.20,123.45 V216.45" stroke="#eee" stroke-width="0.950" stroke-dasharray="0.950 1.900" stroke-dashoffset="1.425"/><path d="M248.63,123.45 V216.45" stroke="#eee" stroke-width="0.950" stroke-dasharray="0.950 1.900" stroke-dashoffset="0.000"/><path d="M250.05,123.45 V216.45" stroke="#eee" stroke-width="0.950" stroke-dasharray="0.950 1.900" stroke-dashoffset="1.425"/></g>
<rect x="240.26" y="127.20" width="9.72" height="89.25" fill="none" stroke="#1a1a1a" stroke-width="0.8"/>
<rect x="249.98" y="146.80" width="9.72" height="69.65" fill="#fff"/>
<rect x="249.98" y="146.80" width="9.72" height="69.65" fill="none" stroke="#1a1a1a" stroke-width="0.8"/>
<rect x="259.70" y="130.90" width="9.72" height="85.55" fill="#fff"/><clipPath id="c20"><rect x="259.70" y="130.90" width="9.72" height="85.55"/></clipPath><g clip-path="url(#c20)"><path d="M257.70,126.35 L271.42,112.63" stroke="#000" stroke-width="2.1"/><path d="M257.70,132.05 L271.42,118.33" stroke="#000" stroke-width="2.1"/><path d="M257.70,137.75 L271.42,124.03" stroke="#000" stroke-width="2.1"/><path d="M257.70,143.45 L271.42,129.73" stroke="#000" stroke-width="2.1"/><path d="M257.70,149.15 L271.42,135.43" stroke="#000" stroke-width="2.1"/><path d="M257.70,154.85 L271.42,141.13" stroke="#000" stroke-width="2.1"/><path d="M257.70,160.55 L271.42,146.83" stroke="#000" stroke-width="2.1"/><path d="M257.70,166.25 L271.42,152.53" stroke="#000" stroke-width="2.1"/><path d="M257.70,171.95 L271.42,158.23" stroke="#000" stroke-width="2.1"/><path d="M257.70,177.65 L271.42,163.93" stroke="#000" stroke-width="2.1"/><path d="M257.70,183.35 L271.42,169.63" stroke="#000" stroke-width="2.1"/><path d="M257.70,189.05 L271.42,175.33" stroke="#000" stroke-width="2.1"/><path d="M257.70,194.75 L271.42,181.03" stroke="#000" stroke-width="2.1"/><path d="M257.70,200.45 L271.42,186.73" stroke="#000" stroke-width="2.1"/><path d="M257.70,206.15 L271.42,192.43" stroke="#000" stroke-width="2.1"/><path d="M257.70,211.85 L271.42,198.13" stroke="#000" stroke-width="2.1"/><path d="M257.70,217.55 L271.42,203.83" stroke="#000" stroke-width="2.1"/><path d="M257.70,223.25 L271.42,209.53" stroke="#000" stroke-width="2.1"/><path d="M257.70,228.95 L271.42,215.23" stroke="#000" stroke-width="2.1"/><path d="M257.70,234.65 L271.42,220.93" stroke="#000" stroke-width="2.1"/></g>
<rect x="259.70" y="130.90" width="9.72" height="85.55" fill="none" stroke="#1a1a1a" stroke-width="0.8"/>
<rect x="283.70" y="162.10" width="9.72" height="54.35" fill="#000"/>
<rect x="283.70" y="162.10" width="9.72" height="54.35" fill="none" stroke="#1a1a1a" stroke-width="0.8"/>
<rect x="293.42" y="138.10" width="9.72" height="78.35" fill="#fff"/><clipPath id="c21"><rect x="293.42" y="138.10" width="9.72" height="78.35"/></clipPath><g clip-path="url(#c21)"><rect x="296.30" y="139.84" width="1" height="1" fill="#858585"/><rect x="302.79" y="139.84" width="1" height="1" fill="#858585"/><rect x="293.05" y="143.08" width="1" height="1" fill="#858585"/><rect x="299.54" y="143.08" width="1" height="1" fill="#858585"/><rect x="296.30" y="146.33" width="1" height="1" fill="#858585"/><rect x="302.79" y="146.33" width="1" height="1" fill="#858585"/><rect x="293.05" y="149.57" width="1" height="1" fill="#858585"/><rect x="299.54" y="149.57" width="1" height="1" fill="#858585"/><rect x="296.30" y="152.82" width="1" height="1" fill="#858585"/><rect x="302.79" y="152.82" width="1" height="1" fill="#858585"/><rect x="293.05" y="156.06" width="1" height="1" fill="#858585"/><rect x="299.54" y="156.06" width="1" height="1" fill="#858585"/><rect x="296.30" y="159.31" width="1" height="1" fill="#858585"/><rect x="302.79" y="159.31" width="1" height="1" fill="#858585"/><rect x="293.05" y="162.55" width="1" height="1" fill="#858585"/><rect x="299.54" y="162.55" width="1" height="1" fill="#858585"/><rect x="296.30" y="165.80" width="1" height="1" fill="#858585"/><rect x="302.79" y="165.80" width="1" height="1" fill="#858585"/><rect x="293.05" y="169.04" width="1" height="1" fill="#858585"/><rect x="299.54" y="169.04" width="1" height="1" fill="#858585"/><rect x="296.30" y="172.29" width="1" height="1" fill="#858585"/><rect x="302.79" y="172.29" width="1" height="1" fill="#858585"/><rect x="293.05" y="175.53" width="1" height="1" fill="#858585"/><rect x="299.54" y="175.53" width="1" height="1" fill="#858585"/><rect x="296.30" y="178.78" width="1" height="1" fill="#858585"/><rect x="302.79" y="178.78" width="1" height="1" fill="#858585"/><rect x="293.05" y="182.02" width="1" height="1" fill="#858585"/><rect x="299.54" y="182.02" width="1" height="1" fill="#858585"/><rect x="296.30" y="185.27" width="1" height="1" fill="#858585"/><rect x="302.79" y="185.27" width="1" height="1" fill="#858585"/><rect x="293.05" y="188.51" width="1" height="1" fill="#858585"/><rect x="299.54" y="188.51" width="1" height="1" fill="#858585"/><rect x="296.30" y="191.76" width="1" height="1" fill="#858585"/><rect x="302.79" y="191.76" width="1" height="1" fill="#858585"/><rect x="293.05" y="195.00" width="1" height="1" fill="#858585"/><rect x="299.54" y="195.00" width="1" height="1" fill="#858585"/><rect x="296.30" y="198.25" width="1" height="1" fill="#858585"/><rect x="302.79" y="198.25" width="1" height="1" fill="#858585"/><rect x="293.05" y="201.49" width="1" height="1" fill="#858585"/><rect x="299.54" y="201.49" width="1" height="1" fill="#858585"/><rect x="296.30" y="204.74" width="1" height="1" fill="#858585"/><rect x="302.79" y="204.74" width="1" height="1" fill="#858585"/><rect x="293.05" y="207.98" width="1" height="1" fill="#858585"/><rect x="299.54" y="207.98" width="1" height="1" fill="#858585"/><rect x="296.30" y="211.23" width="1" height="1" fill="#858585"/><rect x="302.79" y="211.23" width="1" height="1" fill="#858585"/><rect x="293.05" y="214.47" width="1" height="1" fill="#858585"/><rect x="299.54" y="214.47" width="1" height="1" fill="#858585"/></g>
<rect x="293.42" y="138.10" width="9.72" height="78.35" fill="none" stroke="#1a1a1a" stroke-width="0.8"/>
<rect x="303.14" y="120.50" width="9.72" height="95.95" fill="#fff"/><clipPath id="c22"><rect x="303.14" y="120.50" width="9.72" height="95.95"/></clipPath><g clip-path="url(#c22)"><rect x="307.18" y="120.86" width="1" height="1" fill="#555"/><rect x="303.94" y="122.49" width="1" height="1" fill="#555"/><rect x="310.43" y="122.49" width="1" height="1" fill="#555"/><rect x="307.18" y="124.11" width="1" height="1" fill="#555"/><rect x="303.94" y="125.73" width="1" height="1" fill="#555"/><rect x="310.43" y="125.73" width="1" height="1" fill="#555"/><rect x="307.18" y="127.36" width="1" height="1" fill="#555"/><rect x="303.94" y="128.98" width="1" height="1" fill="#555"/><rect x="310.43" y="128.98" width="1" height="1" fill="#555"/><rect x="307.18" y="130.60" width="1" height="1" fill="#555"/><rect x="303.94" y="132.22" width="1" height="1" fill="#555"/><rect x="310.43" y="132.22" width="1" height="1" fill="#555"/><rect x="307.18" y="133.84" width="1" height="1" fill="#555"/><rect x="303.94" y="135.47" width="1" height="1" fill="#555"/><rect x="310.43" y="135.47" width="1" height="1" fill="#555"/><rect x="307.18" y="137.09" width="1" height="1" fill="#555"/><rect x="303.94" y="138.71" width="1" height="1" fill="#555"/><rect x="310.43" y="138.71" width="1" height="1" fill="#555"/><rect x="307.18" y="140.34" width="1" height="1" fill="#555"/><rect x="303.94" y="141.96" width="1" height="1" fill="#555"/><rect x="310.43" y="141.96" width="1" height="1" fill="#555"/><rect x="307.18" y="143.58" width="1" height="1" fill="#555"/><rect x="303.94" y="145.20" width="1" height="1" fill="#555"/><rect x="310.43" y="145.20" width="1" height="1" fill="#555"/><rect x="307.18" y="146.83" width="1" height="1" fill="#555"/><rect x="303.94" y="148.45" width="1" height="1" fill="#555"/><rect x="310.43" y="148.45" width="1" height="1" fill="#555"/><rect x="307.18" y="150.07" width="1" height="1" fill="#555"/><rect x="303.94" y="151.69" width="1" height="1" fill="#555"/><rect x="310.43" y="151.69" width="1" height="1" fill="#555"/><rect x="307.18" y="153.32" width="1" height="1" fill="#555"/><rect x="303.94" y="154.94" width="1" height="1" fill="#555"/><rect x="310.43" y="154.94" width="1" height="1" fill="#555"/><rect x="307.18" y="156.56" width="1" height="1" fill="#555"/><rect x="303.94" y="158.18" width="1" height="1" fill="#555"/><rect x="310.43" y="158.18" width="1" height="1" fill="#555"/><rect x="307.18" y="159.81" width="1" height="1" fill="#555"/><rect x="303.94" y="161.43" width="1" height="1" fill="#555"/><rect x="310.43" y="161.43" width="1" height="1" fill="#555"/><rect x="307.18" y="163.05" width="1" height="1" fill="#555"/><rect x="303.94" y="164.67" width="1" height="1" fill="#555"/><rect x="310.43" y="164.67" width="1" height="1" fill="#555"/><rect x="307.18" y="166.30" width="1" height="1" fill="#555"/><rect x="303.94" y="167.92" width="1" height="1" fill="#555"/><rect x="310.43" y="167.92" width="1" height="1" fill="#555"/><rect x="307.18" y="169.54" width="1" height="1" fill="#555"/><rect x="303.94" y="171.16" width="1" height="1" fill="#555"/><rect x="310.43" y="171.16" width="1" height="1" fill="#555"/><rect x="307.18" y="172.79" width="1" height="1" fill="#555"/><rect x="303.94" y="174.41" width="1" height="1" fill="#555"/><rect x="310.43" y="174.41" width="1" height="1" fill="#555"/><rect x="307.18" y="176.03" width="1" height="1" fill="#555"/><rect x="303.94" y="177.65" width="1" height="1" fill="#555"/><rect x="310.43" y="177.65" width="1" height="1" fill="#555"/><rect x="307.18" y="179.28" width="1" height="1" fill="#555"/><rect x="303.94" y="180.90" width="1" height="1" fill="#555"/><rect x="310.43" y="180.90" width="1" height="1" fill="#555"/><rect x="307.18" y="182.52" width="1" height="1" fill="#555"/><rect x="303.94" y="184.14" width="1" height="1" fill="#555"/><rect x="310.43" y="184.14" width="1" height="1" fill="#555"/><rect x="307.18" y="185.77" width="1" height="1" fill="#555"/><rect x="303.94" y="187.39" width="1" height="1" fill="#555"/><rect x="310.43" y="187.39" width="1" height="1" fill="#555"/><rect x="307.18" y="189.01" width="1" height="1" fill="#555"/><rect x="303.94" y="190.63" width="1" height="1" fill="#555"/><rect x="310.43" y="190.63" width="1" height="1" fill="#555"/><rect x="307.18" y="192.26" width="1" height="1" fill="#555"/><rect x="303.94" y="193.88" width="1" height="1" fill="#555"/><rect x="310.43" y="193.88" width="1" height="1" fill="#555"/><rect x="307.18" y="195.50" width="1" height="1" fill="#555"/><rect x="303.94" y="197.12" width="1" height="1" fill="#555"/><rect x="310.43" y="197.12" width="1" height="1" fill="#555"/><rect x="307.18" y="198.75" width="1" height="1" fill="#555"/><rect x="303.94" y="200.37" width="1" height="1" fill="#555"/><rect x="310.43" y="200.37" width="1" height="1" fill="#555"/><rect x="307.18" y="201.99" width="1" height="1" fill="#555"/><rect x="303.94" y="203.61" width="1" height="1" fill="#555"/><rect x="310.43" y="203.61" width="1" height="1" fill="#555"/><rect x="307.18" y="205.24" width="1" height="1" fill="#555"/><rect x="303.94" y="206.86" width="1" height="1" fill="#555"/><rect x="310.43" y="206.86" width="1" height="1" fill="#555"/><rect x="307.18" y="208.48" width="1" height="1" fill="#555"/><rect x="303.94" y="210.10" width="1" height="1" fill="#555"/><rect x="310.43" y="210.10" width="1" height="1" fill="#555"/><rect x="307.18" y="211.73" width="1" height="1" fill="#555"/><rect x="303.94" y="213.35" width="1" height="1" fill="#555"/><rect x="310.43" y="213.35" width="1" height="1" fill="#555"/><rect x="307.18" y="214.97" width="1" height="1" fill="#555"/></g>
<rect x="303.14" y="120.50" width="9.72" height="95.95" fill="none" stroke="#1a1a1a" stroke-width="0.8"/>
<rect x="312.86" y="115.90" width="9.72" height="100.55" fill="#fff"/><clipPath id="c23"><rect x="312.86" y="115.90" width="9.72" height="100.55"/></clipPath><g clip-path="url(#c23)"><rect x="312.86" y="121.62" width="9.72" height="1.05" fill="#1a1a1a"/><rect x="312.86" y="128.11" width="9.72" height="1.05" fill="#1a1a1a"/><rect x="312.86" y="134.60" width="9.72" height="1.05" fill="#1a1a1a"/><rect x="312.86" y="141.09" width="9.72" height="1.05" fill="#1a1a1a"/><rect x="312.86" y="147.58" width="9.72" height="1.05" fill="#1a1a1a"/><rect x="312.86" y="154.07" width="9.72" height="1.05" fill="#1a1a1a"/><rect x="312.86" y="160.56" width="9.72" height="1.05" fill="#1a1a1a"/><rect x="312.86" y="167.05" width="9.72" height="1.05" fill="#1a1a1a"/><rect x="312.86" y="173.54" width="9.72" height="1.05" fill="#1a1a1a"/><rect x="312.86" y="180.03" width="9.72" height="1.05" fill="#1a1a1a"/><rect x="312.86" y="186.52" width="9.72" height="1.05" fill="#1a1a1a"/><rect x="312.86" y="193.01" width="9.72" height="1.05" fill="#1a1a1a"/><rect x="312.86" y="199.50" width="9.72" height="1.05" fill="#1a1a1a"/><rect x="312.86" y="205.99" width="9.72" height="1.05" fill="#1a1a1a"/><rect x="312.86" y="212.48" width="9.72" height="1.05" fill="#1a1a1a"/></g>
<rect x="312.86" y="115.90" width="9.72" height="100.55" fill="none" stroke="#1a1a1a" stroke-width="0.8"/>
<rect x="322.58" y="109.10" width="9.72" height="107.35" fill="#fff"/><clipPath id="c24"><rect x="322.58" y="109.10" width="9.72" height="107.35"/></clipPath><g clip-path="url(#c24)"><path d="M321.75,107.62 l3.25,-3.57" stroke="#404040" stroke-width="1.05"/><path d="M325.00,107.62 l3.25,-3.57" stroke="#404040" stroke-width="1.05"/><path d="M328.25,107.62 l3.25,-3.57" stroke="#404040" stroke-width="1.05"/><path d="M331.49,107.62 l3.25,-3.57" stroke="#404040" stroke-width="1.05"/><path d="M334.74,107.62 l3.25,-3.57" stroke="#404040" stroke-width="1.05"/><path d="M321.75,114.11 l3.25,-3.57" stroke="#404040" stroke-width="1.05"/><path d="M325.00,114.11 l3.25,-3.57" stroke="#404040" stroke-width="1.05"/><path d="M328.25,114.11 l3.25,-3.57" stroke="#404040" stroke-width="1.05"/><path d="M331.49,114.11 l3.25,-3.57" stroke="#404040" stroke-width="1.05"/><path d="M334.74,114.11 l3.25,-3.57" stroke="#404040" stroke-width="1.05"/><path d="M321.75,120.60 l3.25,-3.57" stroke="#404040" stroke-width="1.05"/><path d="M325.00,120.60 l3.25,-3.57" stroke="#404040" stroke-width="1.05"/><path d="M328.25,120.60 l3.25,-3.57" stroke="#404040" stroke-width="1.05"/><path d="M331.49,120.60 l3.25,-3.57" stroke="#404040" stroke-width="1.05"/><path d="M334.74,120.60 l3.25,-3.57" stroke="#404040" stroke-width="1.05"/><path d="M321.75,127.09 l3.25,-3.57" stroke="#404040" stroke-width="1.05"/><path d="M325.00,127.09 l3.25,-3.57" stroke="#404040" stroke-width="1.05"/><path d="M328.25,127.09 l3.25,-3.57" stroke="#404040" stroke-width="1.05"/><path d="M331.49,127.09 l3.25,-3.57" stroke="#404040" stroke-width="1.05"/><path d="M334.74,127.09 l3.25,-3.57" stroke="#404040" stroke-width="1.05"/><path d="M321.75,133.58 l3.25,-3.57" stroke="#404040" stroke-width="1.05"/><path d="M325.00,133.58 l3.25,-3.57" stroke="#404040" stroke-width="1.05"/><path d="M328.25,133.58 l3.25,-3.57" stroke="#404040" stroke-width="1.05"/><path d="M331.49,133.58 l3.25,-3.57" stroke="#404040" stroke-width="1.05"/><path d="M334.74,133.58 l3.25,-3.57" stroke="#404040" stroke-width="1.05"/><path d="M321.75,140.07 l3.25,-3.57" stroke="#404040" stroke-width="1.05"/><path d="M325.00,140.07 l3.25,-3.57" stroke="#404040" stroke-width="1.05"/><path d="M328.25,140.07 l3.25,-3.57" stroke="#404040" stroke-width="1.05"/><path d="M331.49,140.07 l3.25,-3.57" stroke="#404040" stroke-width="1.05"/><path d="M334.74,140.07 l3.25,-3.57" stroke="#404040" stroke-width="1.05"/><path d="M321.75,146.56 l3.25,-3.57" stroke="#404040" stroke-width="1.05"/><path d="M325.00,146.56 l3.25,-3.57" stroke="#404040" stroke-width="1.05"/><path d="M328.25,146.56 l3.25,-3.57" stroke="#404040" stroke-width="1.05"/><path d="M331.49,146.56 l3.25,-3.57" stroke="#404040" stroke-width="1.05"/><path d="M334.74,146.56 l3.25,-3.57" stroke="#404040" stroke-width="1.05"/><path d="M321.75,153.05 l3.25,-3.57" stroke="#404040" stroke-width="1.05"/><path d="M325.00,153.05 l3.25,-3.57" stroke="#404040" stroke-width="1.05"/><path d="M328.25,153.05 l3.25,-3.57" stroke="#404040" stroke-width="1.05"/><path d="M331.49,153.05 l3.25,-3.57" stroke="#404040" stroke-width="1.05"/><path d="M334.74,153.05 l3.25,-3.57" stroke="#404040" stroke-width="1.05"/><path d="M321.75,159.54 l3.25,-3.57" stroke="#404040" stroke-width="1.05"/><path d="M325.00,159.54 l3.25,-3.57" stroke="#404040" stroke-width="1.05"/><path d="M328.25,159.54 l3.25,-3.57" stroke="#404040" stroke-width="1.05"/><path d="M331.49,159.54 l3.25,-3.57" stroke="#404040" stroke-width="1.05"/><path d="M334.74,159.54 l3.25,-3.57" stroke="#404040" stroke-width="1.05"/><path d="M321.75,166.03 l3.25,-3.57" stroke="#404040" stroke-width="1.05"/><path d="M325.00,166.03 l3.25,-3.57" stroke="#404040" stroke-width="1.05"/><path d="M328.25,166.03 l3.25,-3.57" stroke="#404040" stroke-width="1.05"/><path d="M331.49,166.03 l3.25,-3.57" stroke="#404040" stroke-width="1.05"/><path d="M334.74,166.03 l3.25,-3.57" stroke="#404040" stroke-width="1.05"/><path d="M321.75,172.52 l3.25,-3.57" stroke="#404040" stroke-width="1.05"/><path d="M325.00,172.52 l3.25,-3.57" stroke="#404040" stroke-width="1.05"/><path d="M328.25,172.52 l3.25,-3.57" stroke="#404040" stroke-width="1.05"/><path d="M331.49,172.52 l3.25,-3.57" stroke="#404040" stroke-width="1.05"/><path d="M334.74,172.52 l3.25,-3.57" stroke="#404040" stroke-width="1.05"/><path d="M321.75,179.01 l3.25,-3.57" stroke="#404040" stroke-width="1.05"/><path d="M325.00,179.01 l3.25,-3.57" stroke="#404040" stroke-width="1.05"/><path d="M328.25,179.01 l3.25,-3.57" stroke="#404040" stroke-width="1.05"/><path d="M331.49,179.01 l3.25,-3.57" stroke="#404040" stroke-width="1.05"/><path d="M334.74,179.01 l3.25,-3.57" stroke="#404040" stroke-width="1.05"/><path d="M321.75,185.50 l3.25,-3.57" stroke="#404040" stroke-width="1.05"/><path d="M325.00,185.50 l3.25,-3.57" stroke="#404040" stroke-width="1.05"/><path d="M328.25,185.50 l3.25,-3.57" stroke="#404040" stroke-width="1.05"/><path d="M331.49,185.50 l3.25,-3.57" stroke="#404040" stroke-width="1.05"/><path d="M334.74,185.50 l3.25,-3.57" stroke="#404040" stroke-width="1.05"/><path d="M321.75,191.99 l3.25,-3.57" stroke="#404040" stroke-width="1.05"/><path d="M325.00,191.99 l3.25,-3.57" stroke="#404040" stroke-width="1.05"/><path d="M328.25,191.99 l3.25,-3.57" stroke="#404040" stroke-width="1.05"/><path d="M331.49,191.99 l3.25,-3.57" stroke="#404040" stroke-width="1.05"/><path d="M334.74,191.99 l3.25,-3.57" stroke="#404040" stroke-width="1.05"/><path d="M321.75,198.48 l3.25,-3.57" stroke="#404040" stroke-width="1.05"/><path d="M325.00,198.48 l3.25,-3.57" stroke="#404040" stroke-width="1.05"/><path d="M328.25,198.48 l3.25,-3.57" stroke="#404040" stroke-width="1.05"/><path d="M331.49,198.48 l3.25,-3.57" stroke="#404040" stroke-width="1.05"/><path d="M334.74,198.48 l3.25,-3.57" stroke="#404040" stroke-width="1.05"/><path d="M321.75,204.97 l3.25,-3.57" stroke="#404040" stroke-width="1.05"/><path d="M325.00,204.97 l3.25,-3.57" stroke="#404040" stroke-width="1.05"/><path d="M328.25,204.97 l3.25,-3.57" stroke="#404040" stroke-width="1.05"/><path d="M331.49,204.97 l3.25,-3.57" stroke="#404040" stroke-width="1.05"/><path d="M334.74,204.97 l3.25,-3.57" stroke="#404040" stroke-width="1.05"/><path d="M321.75,211.46 l3.25,-3.57" stroke="#404040" stroke-width="1.05"/><path d="M325.00,211.46 l3.25,-3.57" stroke="#404040" stroke-width="1.05"/><path d="M328.25,211.46 l3.25,-3.57" stroke="#404040" stroke-width="1.05"/><path d="M331.49,211.46 l3.25,-3.57" stroke="#404040" stroke-width="1.05"/><path d="M334.74,211.46 l3.25,-3.57" stroke="#404040" stroke-width="1.05"/><path d="M321.75,217.95 l3.25,-3.57" stroke="#404040" stroke-width="1.05"/><path d="M325.00,217.95 l3.25,-3.57" stroke="#404040" stroke-width="1.05"/><path d="M328.25,217.95 l3.25,-3.57" stroke="#404040" stroke-width="1.05"/><path d="M331.49,217.95 l3.25,-3.57" stroke="#404040" stroke-width="1.05"/><path d="M334.74,217.95 l3.25,-3.57" stroke="#404040" stroke-width="1.05"/><path d="M321.75,224.44 l3.25,-3.57" stroke="#404040" stroke-width="1.05"/><path d="M325.00,224.44 l3.25,-3.57" stroke="#404040" stroke-width="1.05"/><path d="M328.25,224.44 l3.25,-3.57" stroke="#404040" stroke-width="1.05"/><path d="M331.49,224.44 l3.25,-3.57" stroke="#404040" stroke-width="1.05"/><path d="M334.74,224.44 l3.25,-3.57" stroke="#404040" stroke-width="1.05"/></g>
<rect x="322.58" y="109.10" width="9.72" height="107.35" fill="none" stroke="#1a1a1a" stroke-width="0.8"/>
<rect x="332.30" y="83.10" width="9.72" height="133.35" fill="#fff"/><clipPath id="c25"><rect x="332.30" y="83.10" width="9.72" height="133.35"/></clipPath><g clip-path="url(#c25)"><rect x="332.30" y="83.54" width="9.72" height="1.3" fill="#0a0a0a"/><rect x="332.30" y="86.39" width="9.72" height="1.3" fill="#0a0a0a"/><rect x="332.30" y="89.25" width="9.72" height="1.3" fill="#0a0a0a"/><rect x="332.30" y="92.10" width="9.72" height="1.3" fill="#0a0a0a"/><rect x="332.30" y="94.95" width="9.72" height="1.3" fill="#0a0a0a"/><rect x="332.30" y="97.80" width="9.72" height="1.3" fill="#0a0a0a"/><rect x="332.30" y="100.65" width="9.72" height="1.3" fill="#0a0a0a"/><rect x="332.30" y="103.51" width="9.72" height="1.3" fill="#0a0a0a"/><rect x="332.30" y="106.36" width="9.72" height="1.3" fill="#0a0a0a"/><rect x="332.30" y="109.21" width="9.72" height="1.3" fill="#0a0a0a"/><rect x="332.30" y="112.06" width="9.72" height="1.3" fill="#0a0a0a"/><rect x="332.30" y="114.91" width="9.72" height="1.3" fill="#0a0a0a"/><rect x="332.30" y="117.77" width="9.72" height="1.3" fill="#0a0a0a"/><rect x="332.30" y="120.62" width="9.72" height="1.3" fill="#0a0a0a"/><rect x="332.30" y="123.47" width="9.72" height="1.3" fill="#0a0a0a"/><rect x="332.30" y="126.32" width="9.72" height="1.3" fill="#0a0a0a"/><rect x="332.30" y="129.17" width="9.72" height="1.3" fill="#0a0a0a"/><rect x="332.30" y="132.03" width="9.72" height="1.3" fill="#0a0a0a"/><rect x="332.30" y="134.88" width="9.72" height="1.3" fill="#0a0a0a"/><rect x="332.30" y="137.73" width="9.72" height="1.3" fill="#0a0a0a"/><rect x="332.30" y="140.58" width="9.72" height="1.3" fill="#0a0a0a"/><rect x="332.30" y="143.43" width="9.72" height="1.3" fill="#0a0a0a"/><rect x="332.30" y="146.29" width="9.72" height="1.3" fill="#0a0a0a"/><rect x="332.30" y="149.14" width="9.72" height="1.3" fill="#0a0a0a"/><rect x="332.30" y="151.99" width="9.72" height="1.3" fill="#0a0a0a"/><rect x="332.30" y="154.84" width="9.72" height="1.3" fill="#0a0a0a"/><rect x="332.30" y="157.69" width="9.72" height="1.3" fill="#0a0a0a"/><rect x="332.30" y="160.55" width="9.72" height="1.3" fill="#0a0a0a"/><rect x="332.30" y="163.40" width="9.72" height="1.3" fill="#0a0a0a"/><rect x="332.30" y="166.25" width="9.72" height="1.3" fill="#0a0a0a"/><rect x="332.30" y="169.10" width="9.72" height="1.3" fill="#0a0a0a"/><rect x="332.30" y="171.95" width="9.72" height="1.3" fill="#0a0a0a"/><rect x="332.30" y="174.81" width="9.72" height="1.3" fill="#0a0a0a"/><rect x="332.30" y="177.66" width="9.72" height="1.3" fill="#0a0a0a"/><rect x="332.30" y="180.51" width="9.72" height="1.3" fill="#0a0a0a"/><rect x="332.30" y="183.36" width="9.72" height="1.3" fill="#0a0a0a"/><rect x="332.30" y="186.21" width="9.72" height="1.3" fill="#0a0a0a"/><rect x="332.30" y="189.07" width="9.72" height="1.3" fill="#0a0a0a"/><rect x="332.30" y="191.92" width="9.72" height="1.3" fill="#0a0a0a"/><rect x="332.30" y="194.77" width="9.72" height="1.3" fill="#0a0a0a"/><rect x="332.30" y="197.62" width="9.72" height="1.3" fill="#0a0a0a"/><rect x="332.30" y="200.47" width="9.72" height="1.3" fill="#0a0a0a"/><rect x="332.30" y="203.33" width="9.72" height="1.3" fill="#0a0a0a"/><rect x="332.30" y="206.18" width="9.72" height="1.3" fill="#0a0a0a"/><rect x="332.30" y="209.03" width="9.72" height="1.3" fill="#0a0a0a"/><rect x="332.30" y="211.88" width="9.72" height="1.3" fill="#0a0a0a"/><rect x="332.30" y="214.73" width="9.72" height="1.3" fill="#0a0a0a"/></g>
<rect x="332.30" y="83.10" width="9.72" height="133.35" fill="none" stroke="#1a1a1a" stroke-width="0.8"/>
<rect x="342.02" y="64.70" width="9.72" height="151.75" fill="#fff"/><clipPath id="c26"><rect x="342.02" y="64.70" width="9.72" height="151.75"/></clipPath><g clip-path="url(#c26)"><rect x="344.30" y="64.70" width="0.9" height="151.75" fill="#1a1a1a"/><rect x="347.05" y="64.70" width="0.9" height="151.75" fill="#1a1a1a"/><rect x="349.65" y="64.70" width="0.9" height="151.75" fill="#1a1a1a"/></g>
<rect x="342.02" y="64.70" width="9.72" height="151.75" fill="none" stroke="#1a1a1a" stroke-width="0.8"/>
<rect x="351.74" y="50.40" width="9.72" height="166.05" fill="#f4f4f4"/><clipPath id="c27"><rect x="351.74" y="50.40" width="9.72" height="166.05"/></clipPath><g clip-path="url(#c27)"><path d="M351.81,45.90 V216.45" stroke="#141414" stroke-width="1.425" stroke-dasharray="1.425 1.425" stroke-dashoffset="0.000"/><path d="M353.24,45.90 V216.45" stroke="#141414" stroke-width="1.425" stroke-dasharray="1.425 1.425" stroke-dashoffset="1.425"/><path d="M354.66,45.90 V216.45" stroke="#141414" stroke-width="1.425" stroke-dasharray="1.425 1.425" stroke-dashoffset="0.000"/><path d="M356.09,45.90 V216.45" stroke="#141414" stroke-width="1.425" stroke-dasharray="1.425 1.425" stroke-dashoffset="1.425"/><path d="M357.51,45.90 V216.45" stroke="#141414" stroke-width="1.425" stroke-dasharray="1.425 1.425" stroke-dashoffset="0.000"/><path d="M358.94,45.90 V216.45" stroke="#141414" stroke-width="1.425" stroke-dasharray="1.425 1.425" stroke-dashoffset="1.425"/><path d="M360.36,45.90 V216.45" stroke="#141414" stroke-width="1.425" stroke-dasharray="1.425 1.425" stroke-dashoffset="0.000"/><path d="M361.79,45.90 V216.45" stroke="#141414" stroke-width="1.425" stroke-dasharray="1.425 1.425" stroke-dashoffset="1.425"/></g>
<rect x="351.74" y="50.40" width="9.72" height="166.05" fill="none" stroke="#1a1a1a" stroke-width="0.8"/>
<rect x="361.46" y="109.90" width="9.72" height="106.55" fill="#0c0c0c"/><clipPath id="c28"><rect x="361.46" y="109.90" width="9.72" height="106.55"/></clipPath><g clip-path="url(#c28)"><path d="M361.20,106.35 V216.45" stroke="#eee" stroke-width="0.950" stroke-dasharray="0.950 1.900" stroke-dashoffset="1.425"/><path d="M362.63,106.35 V216.45" stroke="#eee" stroke-width="0.950" stroke-dasharray="0.950 1.900" stroke-dashoffset="0.000"/><path d="M364.05,106.35 V216.45" stroke="#eee" stroke-width="0.950" stroke-dasharray="0.950 1.900" stroke-dashoffset="1.425"/><path d="M365.48,106.35 V216.45" stroke="#eee" stroke-width="0.950" stroke-dasharray="0.950 1.900" stroke-dashoffset="0.000"/><path d="M366.90,106.35 V216.45" stroke="#eee" stroke-width="0.950" stroke-dasharray="0.950 1.900" stroke-dashoffset="1.425"/><path d="M368.33,106.35 V216.45" stroke="#eee" stroke-width="0.950" stroke-dasharray="0.950 1.900" stroke-dashoffset="0.000"/><path d="M369.75,106.35 V216.45" stroke="#eee" stroke-width="0.950" stroke-dasharray="0.950 1.900" stroke-dashoffset="1.425"/><path d="M371.18,106.35 V216.45" stroke="#eee" stroke-width="0.950" stroke-dasharray="0.950 1.900" stroke-dashoffset="0.000"/></g>
<rect x="361.46" y="109.90" width="9.72" height="106.55" fill="none" stroke="#1a1a1a" stroke-width="0.8"/>
<rect x="371.18" y="114.90" width="9.72" height="101.55" fill="#fff"/>
<rect x="371.18" y="114.90" width="9.72" height="101.55" fill="none" stroke="#1a1a1a" stroke-width="0.8"/>
<rect x="380.90" y="106.10" width="9.72" height="110.35" fill="#fff"/><clipPath id="c30"><rect x="380.90" y="106.10" width="9.72" height="110.35"/></clipPath><g clip-path="url(#c30)"><path d="M378.90,102.05 L392.62,88.33" stroke="#000" stroke-width="2.1"/><path d="M378.90,107.75 L392.62,94.03" stroke="#000" stroke-width="2.1"/><path d="M378.90,113.45 L392.62,99.73" stroke="#000" stroke-width="2.1"/><path d="M378.90,119.15 L392.62,105.43" stroke="#000" stroke-width="2.1"/><path d="M378.90,124.85 L392.62,111.13" stroke="#000" stroke-width="2.1"/><path d="M378.90,130.55 L392.62,116.83" stroke="#000" stroke-width="2.1"/><path d="M378.90,136.25 L392.62,122.53" stroke="#000" stroke-width="2.1"/><path d="M378.90,141.95 L392.62,128.23" stroke="#000" stroke-width="2.1"/><path d="M378.90,147.65 L392.62,133.93" stroke="#000" stroke-width="2.1"/><path d="M378.90,153.35 L392.62,139.63" stroke="#000" stroke-width="2.1"/><path d="M378.90,159.05 L392.62,145.33" stroke="#000" stroke-width="2.1"/><path d="M378.90,164.75 L392.62,151.03" stroke="#000" stroke-width="2.1"/><path d="M378.90,170.45 L392.62,156.73" stroke="#000" stroke-width="2.1"/><path d="M378.90,176.15 L392.62,162.43" stroke="#000" stroke-width="2.1"/><path d="M378.90,181.85 L392.62,168.13" stroke="#000" stroke-width="2.1"/><path d="M378.90,187.55 L392.62,173.83" stroke="#000" stroke-width="2.1"/><path d="M378.90,193.25 L392.62,179.53" stroke="#000" stroke-width="2.1"/><path d="M378.90,198.95 L392.62,185.23" stroke="#000" stroke-width="2.1"/><path d="M378.90,204.65 L392.62,190.93" stroke="#000" stroke-width="2.1"/><path d="M378.90,210.35 L392.62,196.63" stroke="#000" stroke-width="2.1"/><path d="M378.90,216.05 L392.62,202.33" stroke="#000" stroke-width="2.1"/><path d="M378.90,221.75 L392.62,208.03" stroke="#000" stroke-width="2.1"/><path d="M378.90,227.45 L392.62,213.73" stroke="#000" stroke-width="2.1"/><path d="M378.90,233.15 L392.62,219.43" stroke="#000" stroke-width="2.1"/><path d="M378.90,238.85 L392.62,225.13" stroke="#000" stroke-width="2.1"/></g>
<rect x="380.90" y="106.10" width="9.72" height="110.35" fill="none" stroke="#1a1a1a" stroke-width="0.8"/>
<rect x="404.90" y="204.70" width="9.72" height="11.75" fill="#000"/>
<rect x="404.90" y="204.70" width="9.72" height="11.75" fill="none" stroke="#1a1a1a" stroke-width="0.8"/>
<rect x="414.62" y="164.90" width="9.72" height="51.55" fill="#fff"/><clipPath id="c31"><rect x="414.62" y="164.90" width="9.72" height="51.55"/></clipPath><g clip-path="url(#c31)"><rect x="419.61" y="165.80" width="1" height="1" fill="#858585"/><rect x="416.36" y="169.04" width="1" height="1" fill="#858585"/><rect x="422.85" y="169.04" width="1" height="1" fill="#858585"/><rect x="419.61" y="172.29" width="1" height="1" fill="#858585"/><rect x="416.36" y="175.53" width="1" height="1" fill="#858585"/><rect x="422.85" y="175.53" width="1" height="1" fill="#858585"/><rect x="419.61" y="178.78" width="1" height="1" fill="#858585"/><rect x="416.36" y="182.02" width="1" height="1" fill="#858585"/><rect x="422.85" y="182.02" width="1" height="1" fill="#858585"/><rect x="419.61" y="185.27" width="1" height="1" fill="#858585"/><rect x="416.36" y="188.51" width="1" height="1" fill="#858585"/><rect x="422.85" y="188.51" width="1" height="1" fill="#858585"/><rect x="419.61" y="191.76" width="1" height="1" fill="#858585"/><rect x="416.36" y="195.00" width="1" height="1" fill="#858585"/><rect x="422.85" y="195.00" width="1" height="1" fill="#858585"/><rect x="419.61" y="198.25" width="1" height="1" fill="#858585"/><rect x="416.36" y="201.49" width="1" height="1" fill="#858585"/><rect x="422.85" y="201.49" width="1" height="1" fill="#858585"/><rect x="419.61" y="204.74" width="1" height="1" fill="#858585"/><rect x="416.36" y="207.98" width="1" height="1" fill="#858585"/><rect x="422.85" y="207.98" width="1" height="1" fill="#858585"/><rect x="419.61" y="211.23" width="1" height="1" fill="#858585"/><rect x="416.36" y="214.47" width="1" height="1" fill="#858585"/><rect x="422.85" y="214.47" width="1" height="1" fill="#858585"/></g>
<rect x="414.62" y="164.90" width="9.72" height="51.55" fill="none" stroke="#1a1a1a" stroke-width="0.8"/>
<rect x="424.34" y="149.70" width="9.72" height="66.75" fill="#fff"/><clipPath id="c32"><rect x="424.34" y="149.70" width="9.72" height="66.75"/></clipPath><g clip-path="url(#c32)"><rect x="424.00" y="150.07" width="1" height="1" fill="#555"/><rect x="430.49" y="150.07" width="1" height="1" fill="#555"/><rect x="427.25" y="151.69" width="1" height="1" fill="#555"/><rect x="433.74" y="151.69" width="1" height="1" fill="#555"/><rect x="424.00" y="153.32" width="1" height="1" fill="#555"/><rect x="430.49" y="153.32" width="1" height="1" fill="#555"/><rect x="427.25" y="154.94" width="1" height="1" fill="#555"/><rect x="433.74" y="154.94" width="1" height="1" fill="#555"/><rect x="424.00" y="156.56" width="1" height="1" fill="#555"/><rect x="430.49" y="156.56" width="1" height="1" fill="#555"/><rect x="427.25" y="158.18" width="1" height="1" fill="#555"/><rect x="433.74" y="158.18" width="1" height="1" fill="#555"/><rect x="424.00" y="159.81" width="1" height="1" fill="#555"/><rect x="430.49" y="159.81" width="1" height="1" fill="#555"/><rect x="427.25" y="161.43" width="1" height="1" fill="#555"/><rect x="433.74" y="161.43" width="1" height="1" fill="#555"/><rect x="424.00" y="163.05" width="1" height="1" fill="#555"/><rect x="430.49" y="163.05" width="1" height="1" fill="#555"/><rect x="427.25" y="164.67" width="1" height="1" fill="#555"/><rect x="433.74" y="164.67" width="1" height="1" fill="#555"/><rect x="424.00" y="166.30" width="1" height="1" fill="#555"/><rect x="430.49" y="166.30" width="1" height="1" fill="#555"/><rect x="427.25" y="167.92" width="1" height="1" fill="#555"/><rect x="433.74" y="167.92" width="1" height="1" fill="#555"/><rect x="424.00" y="169.54" width="1" height="1" fill="#555"/><rect x="430.49" y="169.54" width="1" height="1" fill="#555"/><rect x="427.25" y="171.16" width="1" height="1" fill="#555"/><rect x="433.74" y="171.16" width="1" height="1" fill="#555"/><rect x="424.00" y="172.79" width="1" height="1" fill="#555"/><rect x="430.49" y="172.79" width="1" height="1" fill="#555"/><rect x="427.25" y="174.41" width="1" height="1" fill="#555"/><rect x="433.74" y="174.41" width="1" height="1" fill="#555"/><rect x="424.00" y="176.03" width="1" height="1" fill="#555"/><rect x="430.49" y="176.03" width="1" height="1" fill="#555"/><rect x="427.25" y="177.65" width="1" height="1" fill="#555"/><rect x="433.74" y="177.65" width="1" height="1" fill="#555"/><rect x="424.00" y="179.28" width="1" height="1" fill="#555"/><rect x="430.49" y="179.28" width="1" height="1" fill="#555"/><rect x="427.25" y="180.90" width="1" height="1" fill="#555"/><rect x="433.74" y="180.90" width="1" height="1" fill="#555"/><rect x="424.00" y="182.52" width="1" height="1" fill="#555"/><rect x="430.49" y="182.52" width="1" height="1" fill="#555"/><rect x="427.25" y="184.14" width="1" height="1" fill="#555"/><rect x="433.74" y="184.14" width="1" height="1" fill="#555"/><rect x="424.00" y="185.77" width="1" height="1" fill="#555"/><rect x="430.49" y="185.77" width="1" height="1" fill="#555"/><rect x="427.25" y="187.39" width="1" height="1" fill="#555"/><rect x="433.74" y="187.39" width="1" height="1" fill="#555"/><rect x="424.00" y="189.01" width="1" height="1" fill="#555"/><rect x="430.49" y="189.01" width="1" height="1" fill="#555"/><rect x="427.25" y="190.63" width="1" height="1" fill="#555"/><rect x="433.74" y="190.63" width="1" height="1" fill="#555"/><rect x="424.00" y="192.26" width="1" height="1" fill="#555"/><rect x="430.49" y="192.26" width="1" height="1" fill="#555"/><rect x="427.25" y="193.88" width="1" height="1" fill="#555"/><rect x="433.74" y="193.88" width="1" height="1" fill="#555"/><rect x="424.00" y="195.50" width="1" height="1" fill="#555"/><rect x="430.49" y="195.50" width="1" height="1" fill="#555"/><rect x="427.25" y="197.12" width="1" height="1" fill="#555"/><rect x="433.74" y="197.12" width="1" height="1" fill="#555"/><rect x="424.00" y="198.75" width="1" height="1" fill="#555"/><rect x="430.49" y="198.75" width="1" height="1" fill="#555"/><rect x="427.25" y="200.37" width="1" height="1" fill="#555"/><rect x="433.74" y="200.37" width="1" height="1" fill="#555"/><rect x="424.00" y="201.99" width="1" height="1" fill="#555"/><rect x="430.49" y="201.99" width="1" height="1" fill="#555"/><rect x="427.25" y="203.61" width="1" height="1" fill="#555"/><rect x="433.74" y="203.61" width="1" height="1" fill="#555"/><rect x="424.00" y="205.24" width="1" height="1" fill="#555"/><rect x="430.49" y="205.24" width="1" height="1" fill="#555"/><rect x="427.25" y="206.86" width="1" height="1" fill="#555"/><rect x="433.74" y="206.86" width="1" height="1" fill="#555"/><rect x="424.00" y="208.48" width="1" height="1" fill="#555"/><rect x="430.49" y="208.48" width="1" height="1" fill="#555"/><rect x="427.25" y="210.10" width="1" height="1" fill="#555"/><rect x="433.74" y="210.10" width="1" height="1" fill="#555"/><rect x="424.00" y="211.73" width="1" height="1" fill="#555"/><rect x="430.49" y="211.73" width="1" height="1" fill="#555"/><rect x="427.25" y="213.35" width="1" height="1" fill="#555"/><rect x="433.74" y="213.35" width="1" height="1" fill="#555"/><rect x="424.00" y="214.97" width="1" height="1" fill="#555"/><rect x="430.49" y="214.97" width="1" height="1" fill="#555"/></g>
<rect x="424.34" y="149.70" width="9.72" height="66.75" fill="none" stroke="#1a1a1a" stroke-width="0.8"/>
<rect x="434.06" y="142.20" width="9.72" height="74.25" fill="#fff"/><clipPath id="c33"><rect x="434.06" y="142.20" width="9.72" height="74.25"/></clipPath><g clip-path="url(#c33)"><rect x="434.06" y="147.58" width="9.72" height="1.05" fill="#1a1a1a"/><rect x="434.06" y="154.07" width="9.72" height="1.05" fill="#1a1a1a"/><rect x="434.06" y="160.56" width="9.72" height="1.05" fill="#1a1a1a"/><rect x="434.06" y="167.05" width="9.72" height="1.05" fill="#1a1a1a"/><rect x="434.06" y="173.54" width="9.72" height="1.05" fill="#1a1a1a"/><rect x="434.06" y="180.03" width="9.72" height="1.05" fill="#1a1a1a"/><rect x="434.06" y="186.52" width="9.72" height="1.05" fill="#1a1a1a"/><rect x="434.06" y="193.01" width="9.72" height="1.05" fill="#1a1a1a"/><rect x="434.06" y="199.50" width="9.72" height="1.05" fill="#1a1a1a"/><rect x="434.06" y="205.99" width="9.72" height="1.05" fill="#1a1a1a"/><rect x="434.06" y="212.48" width="9.72" height="1.05" fill="#1a1a1a"/></g>
<rect x="434.06" y="142.20" width="9.72" height="74.25" fill="none" stroke="#1a1a1a" stroke-width="0.8"/>
<rect x="443.78" y="147.20" width="9.72" height="69.25" fill="#fff"/><clipPath id="c34"><rect x="443.78" y="147.20" width="9.72" height="69.25"/></clipPath><g clip-path="url(#c34)"><path d="M441.82,146.56 l3.25,-3.57" stroke="#404040" stroke-width="1.05"/><path d="M445.06,146.56 l3.25,-3.57" stroke="#404040" stroke-width="1.05"/><path d="M448.31,146.56 l3.25,-3.57" stroke="#404040" stroke-width="1.05"/><path d="M451.56,146.56 l3.25,-3.57" stroke="#404040" stroke-width="1.05"/><path d="M454.80,146.56 l3.25,-3.57" stroke="#404040" stroke-width="1.05"/><path d="M441.82,153.05 l3.25,-3.57" stroke="#404040" stroke-width="1.05"/><path d="M445.06,153.05 l3.25,-3.57" stroke="#404040" stroke-width="1.05"/><path d="M448.31,153.05 l3.25,-3.57" stroke="#404040" stroke-width="1.05"/><path d="M451.56,153.05 l3.25,-3.57" stroke="#404040" stroke-width="1.05"/><path d="M454.80,153.05 l3.25,-3.57" stroke="#404040" stroke-width="1.05"/><path d="M441.82,159.54 l3.25,-3.57" stroke="#404040" stroke-width="1.05"/><path d="M445.06,159.54 l3.25,-3.57" stroke="#404040" stroke-width="1.05"/><path d="M448.31,159.54 l3.25,-3.57" stroke="#404040" stroke-width="1.05"/><path d="M451.56,159.54 l3.25,-3.57" stroke="#404040" stroke-width="1.05"/><path d="M454.80,159.54 l3.25,-3.57" stroke="#404040" stroke-width="1.05"/><path d="M441.82,166.03 l3.25,-3.57" stroke="#404040" stroke-width="1.05"/><path d="M445.06,166.03 l3.25,-3.57" stroke="#404040" stroke-width="1.05"/><path d="M448.31,166.03 l3.25,-3.57" stroke="#404040" stroke-width="1.05"/><path d="M451.56,166.03 l3.25,-3.57" stroke="#404040" stroke-width="1.05"/><path d="M454.80,166.03 l3.25,-3.57" stroke="#404040" stroke-width="1.05"/><path d="M441.82,172.52 l3.25,-3.57" stroke="#404040" stroke-width="1.05"/><path d="M445.06,172.52 l3.25,-3.57" stroke="#404040" stroke-width="1.05"/><path d="M448.31,172.52 l3.25,-3.57" stroke="#404040" stroke-width="1.05"/><path d="M451.56,172.52 l3.25,-3.57" stroke="#404040" stroke-width="1.05"/><path d="M454.80,172.52 l3.25,-3.57" stroke="#404040" stroke-width="1.05"/><path d="M441.82,179.01 l3.25,-3.57" stroke="#404040" stroke-width="1.05"/><path d="M445.06,179.01 l3.25,-3.57" stroke="#404040" stroke-width="1.05"/><path d="M448.31,179.01 l3.25,-3.57" stroke="#404040" stroke-width="1.05"/><path d="M451.56,179.01 l3.25,-3.57" stroke="#404040" stroke-width="1.05"/><path d="M454.80,179.01 l3.25,-3.57" stroke="#404040" stroke-width="1.05"/><path d="M441.82,185.50 l3.25,-3.57" stroke="#404040" stroke-width="1.05"/><path d="M445.06,185.50 l3.25,-3.57" stroke="#404040" stroke-width="1.05"/><path d="M448.31,185.50 l3.25,-3.57" stroke="#404040" stroke-width="1.05"/><path d="M451.56,185.50 l3.25,-3.57" stroke="#404040" stroke-width="1.05"/><path d="M454.80,185.50 l3.25,-3.57" stroke="#404040" stroke-width="1.05"/><path d="M441.82,191.99 l3.25,-3.57" stroke="#404040" stroke-width="1.05"/><path d="M445.06,191.99 l3.25,-3.57" stroke="#404040" stroke-width="1.05"/><path d="M448.31,191.99 l3.25,-3.57" stroke="#404040" stroke-width="1.05"/><path d="M451.56,191.99 l3.25,-3.57" stroke="#404040" stroke-width="1.05"/><path d="M454.80,191.99 l3.25,-3.57" stroke="#404040" stroke-width="1.05"/><path d="M441.82,198.48 l3.25,-3.57" stroke="#404040" stroke-width="1.05"/><path d="M445.06,198.48 l3.25,-3.57" stroke="#404040" stroke-width="1.05"/><path d="M448.31,198.48 l3.25,-3.57" stroke="#404040" stroke-width="1.05"/><path d="M451.56,198.48 l3.25,-3.57" stroke="#404040" stroke-width="1.05"/><path d="M454.80,198.48 l3.25,-3.57" stroke="#404040" stroke-width="1.05"/><path d="M441.82,204.97 l3.25,-3.57" stroke="#404040" stroke-width="1.05"/><path d="M445.06,204.97 l3.25,-3.57" stroke="#404040" stroke-width="1.05"/><path d="M448.31,204.97 l3.25,-3.57" stroke="#404040" stroke-width="1.05"/><path d="M451.56,204.97 l3.25,-3.57" stroke="#404040" stroke-width="1.05"/><path d="M454.80,204.97 l3.25,-3.57" stroke="#404040" stroke-width="1.05"/><path d="M441.82,211.46 l3.25,-3.57" stroke="#404040" stroke-width="1.05"/><path d="M445.06,211.46 l3.25,-3.57" stroke="#404040" stroke-width="1.05"/><path d="M448.31,211.46 l3.25,-3.57" stroke="#404040" stroke-width="1.05"/><path d="M451.56,211.46 l3.25,-3.57" stroke="#404040" stroke-width="1.05"/><path d="M454.80,211.46 l3.25,-3.57" stroke="#404040" stroke-width="1.05"/><path d="M441.82,217.95 l3.25,-3.57" stroke="#404040" stroke-width="1.05"/><path d="M445.06,217.95 l3.25,-3.57" stroke="#404040" stroke-width="1.05"/><path d="M448.31,217.95 l3.25,-3.57" stroke="#404040" stroke-width="1.05"/><path d="M451.56,217.95 l3.25,-3.57" stroke="#404040" stroke-width="1.05"/><path d="M454.80,217.95 l3.25,-3.57" stroke="#404040" stroke-width="1.05"/><path d="M441.82,224.44 l3.25,-3.57" stroke="#404040" stroke-width="1.05"/><path d="M445.06,224.44 l3.25,-3.57" stroke="#404040" stroke-width="1.05"/><path d="M448.31,224.44 l3.25,-3.57" stroke="#404040" stroke-width="1.05"/><path d="M451.56,224.44 l3.25,-3.57" stroke="#404040" stroke-width="1.05"/><path d="M454.80,224.44 l3.25,-3.57" stroke="#404040" stroke-width="1.05"/></g>
<rect x="443.78" y="147.20" width="9.72" height="69.25" fill="none" stroke="#1a1a1a" stroke-width="0.8"/>
<rect x="453.50" y="115.20" width="9.72" height="101.25" fill="#fff"/><clipPath id="c35"><rect x="453.50" y="115.20" width="9.72" height="101.25"/></clipPath><g clip-path="url(#c35)"><rect x="453.50" y="114.91" width="9.72" height="1.3" fill="#0a0a0a"/><rect x="453.50" y="117.77" width="9.72" height="1.3" fill="#0a0a0a"/><rect x="453.50" y="120.62" width="9.72" height="1.3" fill="#0a0a0a"/><rect x="453.50" y="123.47" width="9.72" height="1.3" fill="#0a0a0a"/><rect x="453.50" y="126.32" width="9.72" height="1.3" fill="#0a0a0a"/><rect x="453.50" y="129.17" width="9.72" height="1.3" fill="#0a0a0a"/><rect x="453.50" y="132.03" width="9.72" height="1.3" fill="#0a0a0a"/><rect x="453.50" y="134.88" width="9.72" height="1.3" fill="#0a0a0a"/><rect x="453.50" y="137.73" width="9.72" height="1.3" fill="#0a0a0a"/><rect x="453.50" y="140.58" width="9.72" height="1.3" fill="#0a0a0a"/><rect x="453.50" y="143.43" width="9.72" height="1.3" fill="#0a0a0a"/><rect x="453.50" y="146.29" width="9.72" height="1.3" fill="#0a0a0a"/><rect x="453.50" y="149.14" width="9.72" height="1.3" fill="#0a0a0a"/><rect x="453.50" y="151.99" width="9.72" height="1.3" fill="#0a0a0a"/><rect x="453.50" y="154.84" width="9.72" height="1.3" fill="#0a0a0a"/><rect x="453.50" y="157.69" width="9.72" height="1.3" fill="#0a0a0a"/><rect x="453.50" y="160.55" width="9.72" height="1.3" fill="#0a0a0a"/><rect x="453.50" y="163.40" width="9.72" height="1.3" fill="#0a0a0a"/><rect x="453.50" y="166.25" width="9.72" height="1.3" fill="#0a0a0a"/><rect x="453.50" y="169.10" width="9.72" height="1.3" fill="#0a0a0a"/><rect x="453.50" y="171.95" width="9.72" height="1.3" fill="#0a0a0a"/><rect x="453.50" y="174.81" width="9.72" height="1.3" fill="#0a0a0a"/><rect x="453.50" y="177.66" width="9.72" height="1.3" fill="#0a0a0a"/><rect x="453.50" y="180.51" width="9.72" height="1.3" fill="#0a0a0a"/><rect x="453.50" y="183.36" width="9.72" height="1.3" fill="#0a0a0a"/><rect x="453.50" y="186.21" width="9.72" height="1.3" fill="#0a0a0a"/><rect x="453.50" y="189.07" width="9.72" height="1.3" fill="#0a0a0a"/><rect x="453.50" y="191.92" width="9.72" height="1.3" fill="#0a0a0a"/><rect x="453.50" y="194.77" width="9.72" height="1.3" fill="#0a0a0a"/><rect x="453.50" y="197.62" width="9.72" height="1.3" fill="#0a0a0a"/><rect x="453.50" y="200.47" width="9.72" height="1.3" fill="#0a0a0a"/><rect x="453.50" y="203.33" width="9.72" height="1.3" fill="#0a0a0a"/><rect x="453.50" y="206.18" width="9.72" height="1.3" fill="#0a0a0a"/><rect x="453.50" y="209.03" width="9.72" height="1.3" fill="#0a0a0a"/><rect x="453.50" y="211.88" width="9.72" height="1.3" fill="#0a0a0a"/><rect x="453.50" y="214.73" width="9.72" height="1.3" fill="#0a0a0a"/></g>
<rect x="453.50" y="115.20" width="9.72" height="101.25" fill="none" stroke="#1a1a1a" stroke-width="0.8"/>
<rect x="463.22" y="129.80" width="9.72" height="86.65" fill="#fff"/><clipPath id="c36"><rect x="463.22" y="129.80" width="9.72" height="86.65"/></clipPath><g clip-path="url(#c36)"><rect x="465.30" y="129.80" width="0.9" height="86.65" fill="#1a1a1a"/><rect x="468.05" y="129.80" width="0.9" height="86.65" fill="#1a1a1a"/></g>
<rect x="463.22" y="129.80" width="9.72" height="86.65" fill="none" stroke="#1a1a1a" stroke-width="0.8"/>
<rect x="472.94" y="87.20" width="9.72" height="129.25" fill="#f4f4f4"/><clipPath id="c37"><rect x="472.94" y="87.20" width="9.72" height="129.25"/></clipPath><g clip-path="url(#c37)"><path d="M472.94,82.95 V216.45" stroke="#141414" stroke-width="1.425" stroke-dasharray="1.425 1.425" stroke-dashoffset="1.425"/><path d="M474.36,82.95 V216.45" stroke="#141414" stroke-width="1.425" stroke-dasharray="1.425 1.425" stroke-dashoffset="0.000"/><path d="M475.79,82.95 V216.45" stroke="#141414" stroke-width="1.425" stroke-dasharray="1.425 1.425" stroke-dashoffset="1.425"/><path d="M477.21,82.95 V216.45" stroke="#141414" stroke-width="1.425" stroke-dasharray="1.425 1.425" stroke-dashoffset="0.000"/><path d="M478.64,82.95 V216.45" stroke="#141414" stroke-width="1.425" stroke-dasharray="1.425 1.425" stroke-dashoffset="1.425"/><path d="M480.06,82.95 V216.45" stroke="#141414" stroke-width="1.425" stroke-dasharray="1.425 1.425" stroke-dashoffset="0.000"/><path d="M481.49,82.95 V216.45" stroke="#141414" stroke-width="1.425" stroke-dasharray="1.425 1.425" stroke-dashoffset="1.425"/><path d="M482.91,82.95 V216.45" stroke="#141414" stroke-width="1.425" stroke-dasharray="1.425 1.425" stroke-dashoffset="0.000"/></g>
<rect x="472.94" y="87.20" width="9.72" height="129.25" fill="none" stroke="#1a1a1a" stroke-width="0.8"/>
<rect x="482.66" y="120.20" width="9.72" height="96.25" fill="#0c0c0c"/><clipPath id="c38"><rect x="482.66" y="120.20" width="9.72" height="96.25"/></clipPath><g clip-path="url(#c38)"><path d="M482.33,117.75 V216.45" stroke="#eee" stroke-width="0.950" stroke-dasharray="0.950 1.900" stroke-dashoffset="0.000"/><path d="M483.75,117.75 V216.45" stroke="#eee" stroke-width="0.950" stroke-dasharray="0.950 1.900" stroke-dashoffset="1.425"/><path d="M485.18,117.75 V216.45" stroke="#eee" stroke-width="0.950" stroke-dasharray="0.950 1.900" stroke-dashoffset="0.000"/><path d="M486.60,117.75 V216.45" stroke="#eee" stroke-width="0.950" stroke-dasharray="0.950 1.900" stroke-dashoffset="1.425"/><path d="M488.03,117.75 V216.45" stroke="#eee" stroke-width="0.950" stroke-dasharray="0.950 1.900" stroke-dashoffset="0.000"/><path d="M489.45,117.75 V216.45" stroke="#eee" stroke-width="0.950" stroke-dasharray="0.950 1.900" stroke-dashoffset="1.425"/><path d="M490.88,117.75 V216.45" stroke="#eee" stroke-width="0.950" stroke-dasharray="0.950 1.900" stroke-dashoffset="0.000"/><path d="M492.30,117.75 V216.45" stroke="#eee" stroke-width="0.950" stroke-dasharray="0.950 1.900" stroke-dashoffset="1.425"/></g>
<rect x="482.66" y="120.20" width="9.72" height="96.25" fill="none" stroke="#1a1a1a" stroke-width="0.8"/>
<rect x="492.38" y="136.20" width="9.72" height="80.25" fill="#fff"/>
<rect x="492.38" y="136.20" width="9.72" height="80.25" fill="none" stroke="#1a1a1a" stroke-width="0.8"/>
<rect x="502.10" y="140.40" width="9.72" height="76.05" fill="#fff"/><clipPath id="c40"><rect x="502.10" y="140.40" width="9.72" height="76.05"/></clipPath><g clip-path="url(#c40)"><path d="M500.10,134.75 L513.82,121.03" stroke="#000" stroke-width="2.1"/><path d="M500.10,140.45 L513.82,126.73" stroke="#000" stroke-width="2.1"/><path d="M500.10,146.15 L513.82,132.43" stroke="#000" stroke-width="2.1"/><path d="M500.10,151.85 L513.82,138.13" stroke="#000" stroke-width="2.1"/><path d="M500.10,157.55 L513.82,143.83" stroke="#000" stroke-width="2.1"/><path d="M500.10,163.25 L513.82,149.53" stroke="#000" stroke-width="2.1"/><path d="M500.10,168.95 L513.82,155.23" stroke="#000" stroke-width="2.1"/><path d="M500.10,174.65 L513.82,160.93" stroke="#000" stroke-width="2.1"/><path d="M500.10,180.35 L513.82,166.63" stroke="#000" stroke-width="2.1"/><path d="M500.10,186.05 L513.82,172.33" stroke="#000" stroke-width="2.1"/><path d="M500.10,191.75 L513.82,178.03" stroke="#000" stroke-width="2.1"/><path d="M500.10,197.45 L513.82,183.73" stroke="#000" stroke-width="2.1"/><path d="M500.10,203.15 L513.82,189.43" stroke="#000" stroke-width="2.1"/><path d="M500.10,208.85 L513.82,195.13" stroke="#000" stroke-width="2.1"/><path d="M500.10,214.55 L513.82,200.83" stroke="#000" stroke-width="2.1"/><path d="M500.10,220.25 L513.82,206.53" stroke="#000" stroke-width="2.1"/><path d="M500.10,225.95 L513.82,212.23" stroke="#000" stroke-width="2.1"/><path d="M500.10,231.65 L513.82,217.93" stroke="#000" stroke-width="2.1"/><path d="M500.10,237.35 L513.82,223.63" stroke="#000" stroke-width="2.1"/></g>
<rect x="502.10" y="140.40" width="9.72" height="76.05" fill="none" stroke="#1a1a1a" stroke-width="0.8"/>
<line x1="34.7" y1="3.5" x2="34.7" y2="216.9" stroke="#6a6a6a" stroke-width="1"/>
<line x1="34.5" y1="216.45" x2="518.5" y2="216.45" stroke="#909090" stroke-width="1"/>
<line x1="32.3" y1="216.45" x2="34.5" y2="216.45" stroke="#666" stroke-width="0.9"/>
<text x="29.5" y="218.75" font-size="6.9" text-anchor="end">0.0</text>
<line x1="32.3" y1="174.15" x2="34.5" y2="174.15" stroke="#666" stroke-width="0.9"/>
<text x="29.5" y="176.45" font-size="6.9" text-anchor="end">0.5</text>
<line x1="32.3" y1="131.45" x2="34.5" y2="131.45" stroke="#666" stroke-width="0.9"/>
<text x="29.5" y="133.75" font-size="6.9" text-anchor="end">1.0</text>
<line x1="32.3" y1="88.45" x2="34.5" y2="88.45" stroke="#666" stroke-width="0.9"/>
<text x="29.5" y="90.75" font-size="6.9" text-anchor="end">1.5</text>
<line x1="32.3" y1="46.00" x2="34.5" y2="46.00" stroke="#666" stroke-width="0.9"/>
<text x="29.5" y="48.30" font-size="6.9" text-anchor="end">2.0</text>
<line x1="32.3" y1="3.50" x2="34.5" y2="3.50" stroke="#666" stroke-width="0.9"/>
<text x="29.5" y="5.80" font-size="6.9" text-anchor="end">2.5</text>
<line x1="34.50" y1="216.4" x2="34.50" y2="218.4" stroke="#dedede" stroke-width="0.9"/>
<line x1="155.50" y1="216.4" x2="155.50" y2="218.4" stroke="#dedede" stroke-width="0.9"/>
<line x1="276.50" y1="216.4" x2="276.50" y2="218.4" stroke="#dedede" stroke-width="0.9"/>
<line x1="397.50" y1="216.4" x2="397.50" y2="218.4" stroke="#dedede" stroke-width="0.9"/>
<line x1="518.50" y1="216.4" x2="518.50" y2="218.4" stroke="#dedede" stroke-width="0.9"/>
<text x="95.0" y="228.6" font-size="6.9" text-anchor="middle">Unclassified</text>
<text x="216.3" y="228.6" font-size="6.9" text-anchor="middle">ABC</text>
<text x="337.5" y="228.6" font-size="6.9" text-anchor="middle">GCB</text>
<text x="457.9" y="228.6" font-size="6.9" text-anchor="middle">PMBCL</text>
<text x="276.9" y="243.2" font-size="8.7" text-anchor="middle">DLBCL subtypes</text>
<text transform="translate(8.7,109.9) rotate(-90)" font-size="8.4" text-anchor="middle" class="r">relative expression</text>
<text transform="translate(145.50,98.90) rotate(-90)" font-size="6.9" text-anchor="middle" class="r">MHC class II avg</text>
<text transform="translate(266.60,100.80) rotate(-90)" font-size="6.9" text-anchor="middle" class="r">MHC class II avg</text>
<text transform="translate(387.90,75.85) rotate(-90)" font-size="6.9" text-anchor="middle" class="r">MHC class II avg</text>
<text transform="translate(508.00,110.65) rotate(-90)" font-size="6.9" text-anchor="middle" class="r">MHC class II avg</text>
<polygon points="104.50,76.20 105.51,78.62 108.11,78.83 106.13,80.53 106.73,83.07 104.50,81.71 102.27,83.07 102.87,80.53 100.89,78.83 103.49,78.62" fill="#000"/>
<polygon points="133.50,95.90 134.51,98.32 137.11,98.53 135.13,100.23 135.73,102.77 133.50,101.41 131.27,102.77 131.87,100.23 129.89,98.53 132.49,98.32" fill="#000"/>
<polygon points="224.80,61.90 225.81,64.32 228.41,64.53 226.43,66.23 227.03,68.77 224.80,67.41 222.57,68.77 223.17,66.23 221.19,64.53 223.79,64.32" fill="#000"/>
<polygon points="286.80,148.40 287.81,150.82 290.41,151.03 288.43,152.73 289.03,155.27 286.80,153.91 284.57,155.27 285.17,152.73 283.19,151.03 285.79,150.82" fill="#000"/>
<polygon points="297.20,126.90 298.21,129.32 300.81,129.53 298.83,131.23 299.43,133.77 297.20,132.41 294.97,133.77 295.57,131.23 293.59,129.53 296.19,129.32" fill="#000"/>
<polygon points="307.00,106.00 308.01,108.42 310.61,108.63 308.63,110.33 309.23,112.87 307.00,111.51 304.77,112.87 305.37,110.33 303.39,108.63 305.99,108.42" fill="#000"/>
<polygon points="316.60,101.20 317.61,103.62 320.21,103.83 318.23,105.53 318.83,108.07 316.60,106.71 314.37,108.07 314.97,105.53 312.99,103.83 315.59,103.62" fill="#000"/>
<polygon points="326.10,95.50 327.11,97.92 329.71,98.13 327.73,99.83 328.33,102.37 326.10,101.01 323.87,102.37 324.47,99.83 322.49,98.13 325.09,97.92" fill="#000"/>
<polygon points="335.70,71.20 336.71,73.62 339.31,73.83 337.33,75.53 337.93,78.07 335.70,76.71 333.47,78.07 334.07,75.53 332.09,73.83 334.69,73.62" fill="#000"/>
<polygon points="346.00,51.30 347.01,53.72 349.61,53.93 347.63,55.63 348.23,58.17 346.00,56.81 343.77,58.17 344.37,55.63 342.39,53.93 344.99,53.72" fill="#000"/>
<polygon points="355.60,38.40 356.61,40.82 359.21,41.03 357.23,42.73 357.83,45.27 355.60,43.91 353.37,45.27 353.97,42.73 351.99,41.03 354.59,40.82" fill="#000"/>
<polygon points="375.30,101.20 376.31,103.62 378.91,103.83 376.93,105.53 377.53,108.07 375.30,106.71 373.07,108.07 373.67,105.53 371.69,103.83 374.29,103.62" fill="#000"/>
<polygon points="385.00,40.00 386.01,42.42 388.61,42.63 386.63,44.33 387.23,46.87 385.00,45.51 382.77,46.87 383.37,44.33 381.39,42.63 383.99,42.42" fill="#000"/>
<rect x="62.5" y="5.6" width="429.7" height="13" fill="#fff" stroke="#7c7c7c" stroke-width="1"/>
<rect x="67.00" y="10.00" width="4.70" height="4.70" fill="#000"/>
<rect x="67.00" y="10" width="4.7" height="4.7" fill="none" stroke="#333" stroke-width="0.8"/>
<text x="74.90" y="15" font-size="8.45">DRA</text>
<rect x="100.30" y="10.00" width="4.70" height="4.70" fill="#fff"/><clipPath id="c41"><rect x="100.30" y="10.00" width="4.70" height="4.70"/></clipPath><g clip-path="url(#c41)"><rect x="101.60" y="10.04" width="1" height="1" fill="#858585"/><rect x="104.84" y="13.28" width="1" height="1" fill="#858585"/></g>
<rect x="100.30" y="10" width="4.7" height="4.7" fill="none" stroke="#333" stroke-width="0.8"/>
<text x="108.90" y="15" font-size="8.45">DRB</text>
<rect x="134.70" y="10.00" width="4.70" height="4.70" fill="#fff"/><clipPath id="c42"><rect x="134.70" y="10.00" width="4.70" height="4.70"/></clipPath><g clip-path="url(#c42)"><rect x="138.44" y="10.54" width="1" height="1" fill="#555"/><rect x="135.20" y="12.16" width="1" height="1" fill="#555"/><rect x="138.44" y="13.78" width="1" height="1" fill="#555"/></g>
<rect x="134.70" y="10" width="4.7" height="4.7" fill="none" stroke="#333" stroke-width="0.8"/>
<text x="142.25" y="15" font-size="8.45">DPA</text>
<rect x="167.60" y="10.00" width="4.70" height="4.70" fill="#fff"/><rect x="170.30" y="10.00" width="0.9" height="4.70" fill="#333"/>
<rect x="167.60" y="10" width="4.7" height="4.7" fill="none" stroke="#333" stroke-width="0.8"/>
<text x="175.00" y="15" font-size="8.45">DPB</text>
<rect x="201.00" y="10.00" width="4.70" height="4.70" fill="#fff"/><path d="M202.00,12.5 L204.20,10.3" stroke="#333" stroke-width="1.1"/>
<rect x="201.00" y="10" width="4.7" height="4.7" fill="none" stroke="#333" stroke-width="0.8"/>
<text x="208.50" y="15" font-size="8.45">DQA</text>
<rect x="234.25" y="10.00" width="4.70" height="4.70" fill="#fff"/><rect x="234.25" y="10.75" width="4.70" height="1.2" fill="#222"/><rect x="234.25" y="13.6" width="4.70" height="1.1" fill="#222"/>
<rect x="234.25" y="10" width="4.7" height="4.7" fill="none" stroke="#333" stroke-width="0.8"/>
<text x="241.50" y="15" font-size="8.45">DQB</text>
<rect x="268.50" y="10.00" width="4.70" height="4.70" fill="#fff"/><rect x="269.10" y="10.00" width="0.9" height="4.70" fill="#222"/><rect x="271.90" y="10.00" width="0.9" height="4.70" fill="#222"/>
<rect x="268.50" y="10" width="4.7" height="4.7" fill="none" stroke="#333" stroke-width="0.8"/>
<text x="276.00" y="15" font-size="8.45">DMA</text>
<rect x="302.75" y="10.00" width="4.70" height="4.70" fill="#f4f4f4"/><clipPath id="c43"><rect x="302.75" y="10.00" width="4.70" height="4.70"/></clipPath><g clip-path="url(#c43)"><path d="M303.36,6.00 V14.70" stroke="#141414" stroke-width="1.425" stroke-dasharray="1.425 1.425" stroke-dashoffset="0.000"/><path d="M304.79,6.00 V14.70" stroke="#141414" stroke-width="1.425" stroke-dasharray="1.425 1.425" stroke-dashoffset="1.425"/><path d="M306.21,6.00 V14.70" stroke="#141414" stroke-width="1.425" stroke-dasharray="1.425 1.425" stroke-dashoffset="0.000"/><path d="M307.64,6.00 V14.70" stroke="#141414" stroke-width="1.425" stroke-dasharray="1.425 1.425" stroke-dashoffset="1.425"/></g>
<rect x="302.75" y="10" width="4.7" height="4.7" fill="none" stroke="#333" stroke-width="0.8"/>
<text x="310.25" y="15" font-size="8.45">DMB</text>
<rect x="337.25" y="10.00" width="4.70" height="4.70" fill="#0c0c0c"/><clipPath id="c44"><rect x="337.25" y="10.00" width="4.70" height="4.70"/></clipPath><g clip-path="url(#c44)"><path d="M336.98,6.60 V14.70" stroke="#eee" stroke-width="0.950" stroke-dasharray="0.950 1.900" stroke-dashoffset="0.000"/><path d="M338.40,6.60 V14.70" stroke="#eee" stroke-width="0.950" stroke-dasharray="0.950 1.900" stroke-dashoffset="1.425"/><path d="M339.83,6.60 V14.70" stroke="#eee" stroke-width="0.950" stroke-dasharray="0.950 1.900" stroke-dashoffset="0.000"/><path d="M341.25,6.60 V14.70" stroke="#eee" stroke-width="0.950" stroke-dasharray="0.950 1.900" stroke-dashoffset="1.425"/></g>
<rect x="337.25" y="10" width="4.7" height="4.7" fill="none" stroke="#333" stroke-width="0.8"/>
<text x="344.75" y="15" font-size="8.45">CD74</text>
<rect x="374.75" y="10.00" width="4.70" height="4.70" fill="#fff"/>
<rect x="374.75" y="10" width="4.7" height="4.7" fill="none" stroke="#333" stroke-width="0.8"/>
<text x="382.00" y="15" font-size="8.45">CIITA</text>
<rect x="411.75" y="10.00" width="4.70" height="4.70" fill="#fff"/><clipPath id="c46"><rect x="411.75" y="10.00" width="4.70" height="4.70"/></clipPath><g clip-path="url(#c46)"><path d="M409.75,2.80 L418.45,-5.90" stroke="#000" stroke-width="2.1"/><path d="M409.75,8.50 L418.45,-0.20" stroke="#000" stroke-width="2.1"/><path d="M409.75,14.20 L418.45,5.50" stroke="#000" stroke-width="2.1"/><path d="M409.75,19.90 L418.45,11.20" stroke="#000" stroke-width="2.1"/><path d="M409.75,25.60 L418.45,16.90" stroke="#000" stroke-width="2.1"/><path d="M409.75,31.30 L418.45,22.60" stroke="#000" stroke-width="2.1"/></g>
<rect x="411.75" y="10" width="4.7" height="4.7" fill="none" stroke="#333" stroke-width="0.8"/>
<text x="418.90" y="15" font-size="8.45">MHC class II avg</text>
</svg></body></html>
